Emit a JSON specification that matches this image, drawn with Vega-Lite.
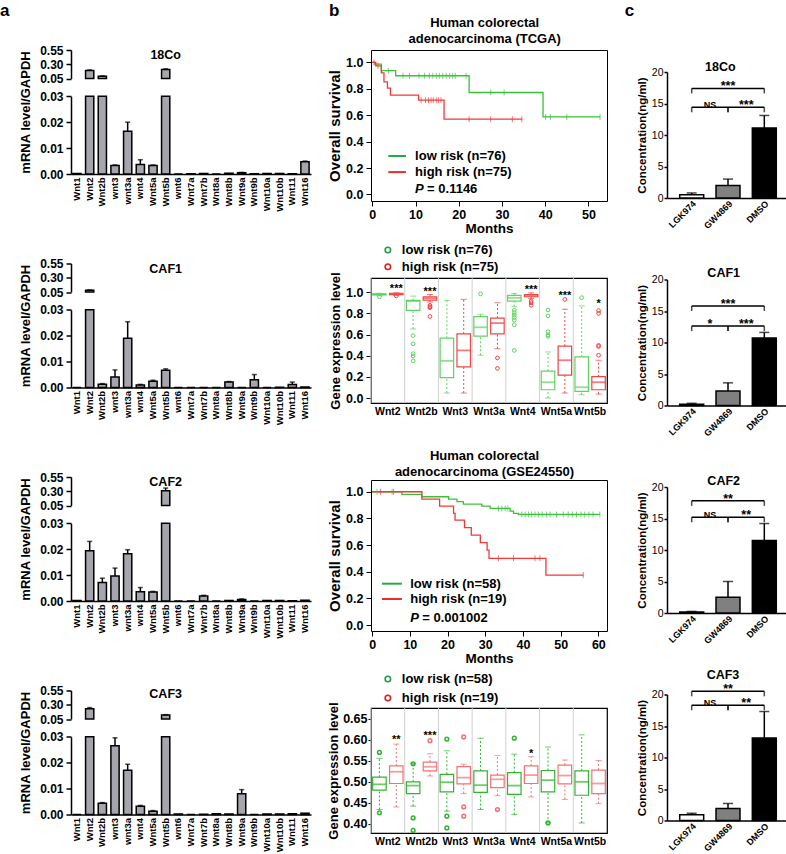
{
"$schema": "https://vega.github.io/schema/vega-lite/v6.json",
"background": "white",
"padding": {"left": 0, "top": 1, "right": 0, "bottom": 0},
"spacing": 16,
"resolve": {"scale": {"color": "independent"}},
"config": {
  "font": "Liberation Sans",
  "view": {"stroke": null},
  "axis": {"domainColor": "black", "tickColor": "black", "labelColor": "black", "titleColor": "black", "labelFontWeight": "bold", "titleFontWeight": "bold", "grid": false},
  "text": {"color": "black"}
},
"datasets": {
  "a1": [
    {"g":"Wnt1","v":0.0002,"hi":0.0002},{"g":"Wnt2","v":0.19,"hi":0.2},{"g":"Wnt2b","v":0.09,"hi":0.095},{"g":"wnt3","v":0.0033,"hi":0.0035},{"g":"wnt3a","v":0.0165,"hi":0.02},{"g":"wnt4","v":0.0037,"hi":0.0055},{"g":"Wnt5a","v":0.0033,"hi":0.0035},{"g":"Wnt5b","v":0.21,"hi":0.22},{"g":"wnt6","v":0,"hi":0},{"g":"Wnt7a","v":0.0001,"hi":0.0001},{"g":"Wnt7b","v":0.0002,"hi":0.0002},{"g":"Wnt8a","v":0,"hi":0},{"g":"Wnt8b","v":0.0003,"hi":0.0003},{"g":"Wnt9a","v":0.0005,"hi":0.0006},{"g":"Wnt9b","v":0.0001,"hi":0.0001},{"g":"Wnt10a","v":0.0002,"hi":0.0002},{"g":"Wnt10b","v":0.0002,"hi":0.0002},{"g":"Wnt11","v":0.0001,"hi":0.0001},{"g":"Wnt16","v":0.0047,"hi":0.005}
  ],
  "a2": [
    {"g":"Wnt1","v":0,"hi":0},{"g":"Wnt2","v":0.08,"hi":0.085},{"g":"Wnt2b","v":0.0013,"hi":0.0015},{"g":"wnt3","v":0.0041,"hi":0.0068},{"g":"wnt3a","v":0.019,"hi":0.0254},{"g":"wnt4","v":0.001,"hi":0.0012},{"g":"Wnt5a","v":0.0024,"hi":0.0028},{"g":"Wnt5b","v":0.0067,"hi":0.0072},{"g":"wnt6","v":0,"hi":0},{"g":"Wnt7a","v":0,"hi":0},{"g":"Wnt7b","v":0,"hi":0},{"g":"Wnt8a","v":0,"hi":0},{"g":"Wnt8b","v":0.0021,"hi":0.0023},{"g":"Wnt9a","v":0,"hi":0},{"g":"Wnt9b","v":0.003,"hi":0.005},{"g":"Wnt10a","v":0,"hi":0},{"g":"Wnt10b","v":0.0001,"hi":0.0001},{"g":"Wnt11","v":0.0012,"hi":0.0021},{"g":"Wnt16","v":0.0002,"hi":0.0002}
  ],
  "a3": [
    {"g":"Wnt1","v":0.0002,"hi":0.0002},{"g":"Wnt2","v":0.0194,"hi":0.023},{"g":"Wnt2b","v":0.0071,"hi":0.0088},{"g":"wnt3","v":0.0097,"hi":0.0127},{"g":"wnt3a","v":0.0182,"hi":0.0198},{"g":"wnt4","v":0.0036,"hi":0.0052},{"g":"Wnt5a","v":0.0035,"hi":0.0037},{"g":"Wnt5b","v":0.31,"hi":0.356},{"g":"wnt6","v":0,"hi":0},{"g":"Wnt7a","v":0,"hi":0},{"g":"Wnt7b","v":0.0019,"hi":0.0022},{"g":"Wnt8a","v":0,"hi":0},{"g":"Wnt8b","v":0.0002,"hi":0.0002},{"g":"Wnt9a","v":0.0006,"hi":0.0008},{"g":"Wnt9b","v":0,"hi":0},{"g":"Wnt10a","v":0.0002,"hi":0.0002},{"g":"Wnt10b","v":0.0002,"hi":0.0002},{"g":"Wnt11","v":0.0001,"hi":0.0001},{"g":"Wnt16","v":0.0003,"hi":0.0003}
  ],
  "a4": [
    {"g":"Wnt1","v":0,"hi":0},{"g":"Wnt2","v":0.23,"hi":0.25},{"g":"Wnt2b","v":0.0043,"hi":0.0046},{"g":"wnt3","v":0.0265,"hi":0.0296},{"g":"wnt3a","v":0.0171,"hi":0.0194},{"g":"wnt4","v":0.0032,"hi":0.0035},{"g":"Wnt5a","v":0.0013,"hi":0.0015},{"g":"Wnt5b","v":0.12,"hi":0.126},{"g":"wnt6","v":0.0002,"hi":0.0002},{"g":"Wnt7a","v":0,"hi":0},{"g":"Wnt7b","v":0.0001,"hi":0.0001},{"g":"Wnt8a","v":0.0003,"hi":0.0003},{"g":"Wnt8b","v":0.0002,"hi":0.0002},{"g":"Wnt9a","v":0.008,"hi":0.0096},{"g":"Wnt9b","v":0,"hi":0},{"g":"Wnt10a","v":0.0002,"hi":0.0002},{"g":"Wnt10b","v":0.0002,"hi":0.0002},{"g":"Wnt11","v":0.0003,"hi":0.0003},{"g":"Wnt16","v":0.0005,"hi":0.0005}
  ],
  "km1": [
    {"t":0,"s":1,"grp":"low"},{"t":0.6,"s":0.987,"grp":"low"},{"t":2.1,"s":0.937,"grp":"low"},{"t":5.4,"s":0.899,"grp":"low"},{"t":22.4,"s":0.772,"grp":"low"},{"t":39.5,"s":0.587,"grp":"low"},{"t":52.7,"s":0.587,"grp":"low"},
    {"t":0,"s":1,"grp":"high"},{"t":0.8,"s":0.974,"grp":"high"},{"t":2.1,"s":0.92,"grp":"high"},{"t":2.7,"s":0.853,"grp":"high"},{"t":3.5,"s":0.805,"grp":"high"},{"t":4.2,"s":0.752,"grp":"high"},{"t":10.7,"s":0.714,"grp":"high"},{"t":16.6,"s":0.57,"grp":"high"},{"t":34.7,"s":0.57,"grp":"high"}
  ],
  "cens1": [
    {"t":3.7,"s":0.937,"grp":"low"},{"t":7.1,"s":0.899,"grp":"low"},{"t":8.6,"s":0.899,"grp":"low"},{"t":10.8,"s":0.899,"grp":"low"},{"t":12.1,"s":0.899,"grp":"low"},{"t":13.2,"s":0.899,"grp":"low"},{"t":14.0,"s":0.899,"grp":"low"},{"t":14.8,"s":0.899,"grp":"low"},{"t":15.5,"s":0.899,"grp":"low"},{"t":16.3,"s":0.899,"grp":"low"},{"t":17.1,"s":0.899,"grp":"low"},{"t":17.9,"s":0.899,"grp":"low"},{"t":18.6,"s":0.899,"grp":"low"},{"t":19.2,"s":0.899,"grp":"low"},{"t":21.7,"s":0.899,"grp":"low"},{"t":27.4,"s":0.772,"grp":"low"},{"t":30.5,"s":0.772,"grp":"low"},{"t":40.1,"s":0.587,"grp":"low"},{"t":41.2,"s":0.587,"grp":"low"},{"t":45.0,"s":0.587,"grp":"low"},{"t":52.7,"s":0.587,"grp":"low"},
    {"t":0.4,"s":1,"grp":"high"},{"t":1.3,"s":0.974,"grp":"high"},{"t":11.3,"s":0.714,"grp":"high"},{"t":12.3,"s":0.714,"grp":"high"},{"t":13.0,"s":0.714,"grp":"high"},{"t":13.6,"s":0.714,"grp":"high"},{"t":14.1,"s":0.714,"grp":"high"},{"t":14.8,"s":0.714,"grp":"high"},{"t":15.3,"s":0.714,"grp":"high"},{"t":15.9,"s":0.714,"grp":"high"},{"t":22.4,"s":0.57,"grp":"high"},{"t":27.4,"s":0.57,"grp":"high"},{"t":32.4,"s":0.57,"grp":"high"},{"t":34.6,"s":0.57,"grp":"high"}
  ],
  "km2": [
    {"t":0,"s":1,"grp":"low"},{"t":7.9,"s":0.98,"grp":"low"},{"t":13.2,"s":0.9625,"grp":"low"},{"t":20.3,"s":0.945,"grp":"low"},{"t":22.5,"s":0.925,"grp":"low"},{"t":24.2,"s":0.9075,"grp":"low"},{"t":29.1,"s":0.8925,"grp":"low"},{"t":31.3,"s":0.875,"grp":"low"},{"t":36.6,"s":0.855,"grp":"low"},{"t":37.5,"s":0.8375,"grp":"low"},{"t":38.8,"s":0.83,"grp":"low"},{"t":60.4,"s":0.83,"grp":"low"},
    {"t":0,"s":1,"grp":"high"},{"t":13.2,"s":0.945,"grp":"high"},{"t":17.9,"s":0.8925,"grp":"high"},{"t":21.6,"s":0.8375,"grp":"high"},{"t":22.0,"s":0.7875,"grp":"high"},{"t":24.5,"s":0.73,"grp":"high"},{"t":26.3,"s":0.675,"grp":"high"},{"t":28.7,"s":0.6175,"grp":"high"},{"t":30.5,"s":0.5625,"grp":"high"},{"t":31.0,"s":0.5,"grp":"high"},{"t":46.1,"s":0.375,"grp":"high"},{"t":56.0,"s":0.375,"grp":"high"}
  ],
  "cens2": [
    {"t":1.3,"s":1,"grp":"low"},{"t":5.3,"s":1,"grp":"low"},{"t":33.5,"s":0.875,"grp":"low"},{"t":34.4,"s":0.875,"grp":"low"},{"t":35.3,"s":0.875,"grp":"low"},{"t":36.0,"s":0.875,"grp":"low"},{"t":39.7,"s":0.83,"grp":"low"},{"t":40.6,"s":0.83,"grp":"low"},{"t":41.5,"s":0.83,"grp":"low"},{"t":42.3,"s":0.83,"grp":"low"},{"t":43.2,"s":0.83,"grp":"low"},{"t":44.1,"s":0.83,"grp":"low"},{"t":45.1,"s":0.83,"grp":"low"},{"t":46.3,"s":0.83,"grp":"low"},{"t":47.2,"s":0.83,"grp":"low"},{"t":48.9,"s":0.83,"grp":"low"},{"t":50.7,"s":0.83,"grp":"low"},{"t":52.0,"s":0.83,"grp":"low"},{"t":53.1,"s":0.83,"grp":"low"},{"t":54.2,"s":0.83,"grp":"low"},{"t":55.4,"s":0.83,"grp":"low"},{"t":56.4,"s":0.83,"grp":"low"},{"t":57.5,"s":0.83,"grp":"low"},{"t":58.6,"s":0.83,"grp":"low"},{"t":60.4,"s":0.83,"grp":"low"},
    {"t":2.2,"s":1,"grp":"high"},{"t":5.7,"s":1,"grp":"high"},{"t":33.5,"s":0.5,"grp":"high"},{"t":37.5,"s":0.5,"grp":"high"},{"t":43.2,"s":0.5,"grp":"high"},{"t":44.5,"s":0.5,"grp":"high"},{"t":56.0,"s":0.375,"grp":"high"}
  ],
  "box1": [
    {"gene":"Wnt2","grp":"low","lo":0.965,"q1":0.975,"med":0.98,"q3":0.985,"hi":0.99},
    {"gene":"Wnt2","grp":"high","lo":0.97,"q1":0.977,"med":0.982,"q3":0.99,"hi":0.995},
    {"gene":"Wnt2b","grp":"low","lo":0.652,"q1":0.829,"med":0.916,"q3":0.922,"hi":0.963},
    {"gene":"Wnt2b","grp":"high","lo":0.907,"q1":0.925,"med":0.944,"q3":0.957,"hi":0.978},
    {"gene":"Wnt3","grp":"low","lo":0.047,"q1":0.193,"med":0.351,"q3":0.565,"hi":0.922},
    {"gene":"Wnt3","grp":"high","lo":0.047,"q1":0.295,"med":0.45,"q3":0.606,"hi":0.932},
    {"gene":"Wnt3a","grp":"low","lo":0.404,"q1":0.584,"med":0.668,"q3":0.77,"hi":0.792},
    {"gene":"Wnt3a","grp":"high","lo":0.466,"q1":0.606,"med":0.708,"q3":0.755,"hi":0.9},
    {"gene":"Wnt4","grp":"low","lo":0.863,"q1":0.916,"med":0.947,"q3":0.969,"hi":0.988},
    {"gene":"Wnt4","grp":"high","lo":0.941,"q1":0.957,"med":0.969,"q3":0.978,"hi":0.994},
    {"gene":"Wnt5a","grp":"low","lo":0.0,"q1":0.078,"med":0.149,"q3":0.255,"hi":0.435},
    {"gene":"Wnt5a","grp":"high","lo":0.047,"q1":0.217,"med":0.357,"q3":0.491,"hi":0.839},
    {"gene":"Wnt5b","grp":"low","lo":0.031,"q1":0.062,"med":0.102,"q3":0.388,"hi":0.87},
    {"gene":"Wnt5b","grp":"high","lo":0.037,"q1":0.078,"med":0.149,"q3":0.202,"hi":0.357}
  ],
  "out1": [
    {"gene":"Wnt2","grp":"low","v":0.957},{"gene":"Wnt2","grp":"high","v":0.965},
    {"gene":"Wnt2b","grp":"low","v":0.59},{"gene":"Wnt2b","grp":"low","v":0.512},{"gene":"Wnt2b","grp":"low","v":0.419},{"gene":"Wnt2b","grp":"low","v":0.398},{"gene":"Wnt2b","grp":"low","v":0.351},
    {"gene":"Wnt2b","grp":"high","v":0.876},{"gene":"Wnt2b","grp":"high","v":0.863},{"gene":"Wnt2b","grp":"high","v":0.854},{"gene":"Wnt2b","grp":"high","v":0.77},
    {"gene":"Wnt3a","grp":"low","v":0.984},{"gene":"Wnt3a","grp":"high","v":0.379},{"gene":"Wnt3a","grp":"high","v":0.28},
    {"gene":"Wnt4","grp":"low","v":0.829},{"gene":"Wnt4","grp":"low","v":0.807},{"gene":"Wnt4","grp":"low","v":0.783},{"gene":"Wnt4","grp":"low","v":0.761},{"gene":"Wnt4","grp":"low","v":0.736},{"gene":"Wnt4","grp":"low","v":0.692},{"gene":"Wnt4","grp":"low","v":0.45},
    {"gene":"Wnt4","grp":"high","v":0.916},{"gene":"Wnt4","grp":"high","v":0.9},{"gene":"Wnt4","grp":"high","v":0.876},
    {"gene":"Wnt5a","grp":"low","v":0.832},{"gene":"Wnt5a","grp":"low","v":0.776},{"gene":"Wnt5a","grp":"low","v":0.627},{"gene":"Wnt5a","grp":"low","v":0.596},{"gene":"Wnt5a","grp":"low","v":0.584},
    {"gene":"Wnt5a","grp":"high","v":0.932},{"gene":"Wnt5b","grp":"low","v":0.948},
    {"gene":"Wnt5b","grp":"high","v":0.826},{"gene":"Wnt5b","grp":"high","v":0.8},{"gene":"Wnt5b","grp":"high","v":0.497},{"gene":"Wnt5b","grp":"high","v":0.487},{"gene":"Wnt5b","grp":"high","v":0.404}
  ],
  "star1": [
    {"gene":"Wnt2","grp":"high","y":1.05,"lab":"***"},{"gene":"Wnt2b","grp":"high","y":1.025,"lab":"***"},{"gene":"Wnt4","grp":"high","y":1.04,"lab":"***"},{"gene":"Wnt5a","grp":"high","y":0.979,"lab":"***"},{"gene":"Wnt5b","grp":"high","y":0.907,"lab":"*"}
  ],
  "box2": [
    {"gene":"Wnt2","grp":"low","lo":0.434,"q1":0.48,"med":0.494,"q3":0.511,"hi":0.556},
    {"gene":"Wnt2","grp":"high","lo":0.44,"q1":0.496,"med":0.524,"q3":0.538,"hi":0.59},
    {"gene":"Wnt2b","grp":"low","lo":0.442,"q1":0.472,"med":0.491,"q3":0.5,"hi":0.544},
    {"gene":"Wnt2b","grp":"high","lo":0.514,"q1":0.526,"med":0.536,"q3":0.547,"hi":0.567},
    {"gene":"Wnt3","grp":"low","lo":0.43,"q1":0.476,"med":0.499,"q3":0.518,"hi":0.574},
    {"gene":"Wnt3","grp":"high","lo":0.472,"q1":0.495,"med":0.51,"q3":0.536,"hi":0.542},
    {"gene":"Wnt3a","grp":"low","lo":0.434,"q1":0.475,"med":0.492,"q3":0.526,"hi":0.604},
    {"gene":"Wnt3a","grp":"high","lo":0.467,"q1":0.486,"med":0.506,"q3":0.516,"hi":0.563},
    {"gene":"Wnt4","grp":"low","lo":0.422,"q1":0.47,"med":0.491,"q3":0.522,"hi":0.566},
    {"gene":"Wnt4","grp":"high","lo":0.464,"q1":0.496,"med":0.516,"q3":0.538,"hi":0.56},
    {"gene":"Wnt5a","grp":"low","lo":0.402,"q1":0.476,"med":0.504,"q3":0.527,"hi":0.583},
    {"gene":"Wnt5a","grp":"high","lo":0.458,"q1":0.495,"med":0.515,"q3":0.54,"hi":0.552},
    {"gene":"Wnt5b","grp":"low","lo":0.402,"q1":0.468,"med":0.5,"q3":0.526,"hi":0.612},
    {"gene":"Wnt5b","grp":"high","lo":0.448,"q1":0.472,"med":0.496,"q3":0.528,"hi":0.551}
  ],
  "out2": [
    {"gene":"Wnt2","grp":"low","v":0.57},{"gene":"Wnt2","grp":"low","v":0.426},
    {"gene":"Wnt2b","grp":"low","v":0.543},{"gene":"Wnt2b","grp":"low","v":0.414},{"gene":"Wnt2b","grp":"low","v":0.384},
    {"gene":"Wnt2b","grp":"high","v":0.598},
    {"gene":"Wnt3","grp":"low","v":0.602},{"gene":"Wnt3","grp":"low","v":0.418},{"gene":"Wnt3","grp":"low","v":0.39},
    {"gene":"Wnt3","grp":"high","v":0.607},{"gene":"Wnt3","grp":"high","v":0.44},{"gene":"Wnt3","grp":"high","v":0.418},
    {"gene":"Wnt3a","grp":"high","v":0.434},{"gene":"Wnt4","grp":"low","v":0.604},{"gene":"Wnt5a","grp":"low","v":0.402}
  ],
  "star2": [
    {"gene":"Wnt2","grp":"high","y":0.604,"lab":"**"},{"gene":"Wnt2b","grp":"high","y":0.614,"lab":"***"},{"gene":"Wnt4","grp":"high","y":0.57,"lab":"*"}
  ],
  "c1": [{"x":"LGK974","v":0.5,"hi":0.8},{"x":"GW4869","v":2.0,"hi":3.0},{"x":"DMSO","v":11.1,"hi":13.1}],
  "c2": [{"x":"LGK974","v":0.2,"hi":0.35},{"x":"GW4869","v":2.3,"hi":3.6},{"x":"DMSO","v":10.7,"hi":11.6}],
  "c3": [{"x":"LGK974","v":0.15,"hi":0.25},{"x":"GW4869","v":2.5,"hi":5.0},{"x":"DMSO","v":11.5,"hi":14.2}],
  "c4": [{"x":"LGK974","v":0.9,"hi":1.15},{"x":"GW4869","v":1.9,"hi":2.7},{"x":"DMSO","v":13.1,"hi":17.3}],
  "k1": [{"x1":"LGK974","x2":"DMSO","y":17.4,"lab":"***","lvl":"top"},{"x1":"LGK974","x2":"GW4869","y":14.4,"lab":"NS","lvl":"low"},{"x1":"GW4869","x2":"DMSO","y":14.4,"lab":"***","lvl":"low"}],
  "k2": [{"x1":"LGK974","x2":"DMSO","y":15.8,"lab":"***","lvl":"top"},{"x1":"LGK974","x2":"GW4869","y":12.6,"lab":"*","lvl":"low"},{"x1":"GW4869","x2":"DMSO","y":12.6,"lab":"***","lvl":"low"}],
  "k3": [{"x1":"LGK974","x2":"DMSO","y":17.8,"lab":"**","lvl":"top"},{"x1":"LGK974","x2":"GW4869","y":15.2,"lab":"NS","lvl":"low"},{"x1":"GW4869","x2":"DMSO","y":15.2,"lab":"**","lvl":"low"}],
  "k4": [{"x1":"LGK974","x2":"DMSO","y":20.5,"lab":"**","lvl":"top"},{"x1":"LGK974","x2":"GW4869","y":18.3,"lab":"NS","lvl":"low"},{"x1":"GW4869","x2":"DMSO","y":18.3,"lab":"**","lvl":"low"}]
},
"hconcat": [
{
  "bounds": "flush",
  "spacing": 89.5,
  "vconcat": [
  {
    "width": 240, "height": 124,
    "layer": [
      {"layer": [
        {"data": {"name": "a1"}, "transform": [{"filter": "datum.v > 0.05"}], "mark": {"type": "bar", "fill": "#a5a5ad", "stroke": "black", "strokeWidth": 1.5},
         "encoding": {"x": {"field": "g", "type": "nominal", "scale": {"domain": ["Wnt1","Wnt2","Wnt2b","wnt3","wnt3a","wnt4","Wnt5a","Wnt5b","wnt6","Wnt7a","Wnt7b","Wnt8a","Wnt8b","Wnt9a","Wnt9b","Wnt10a","Wnt10b","Wnt11","Wnt16"], "paddingInner": 0.35, "paddingOuter": 0.15}, "axis": {"title": null, "labelAngle": -90, "labelFontSize": 9.5, "labelPadding": 3, "ticks": false, "domainWidth": 1.5, "labelOverlap": false}},
                      "y": {"field": "v", "type": "quantitative", "scale": {"domain": [0.05, 0.55], "range": [28.5, 0], "clamp": true, "nice": false, "zero": false}, "axis": {"orient": "left", "values": [0.05, 0.3, 0.55], "format": ".2f", "title": null, "labelFontSize": 12, "tickSize": 5, "tickWidth": 1.5, "domainWidth": 1.5, "labelPadding": 3}},
                      "y2": {"datum": 0.05}}},
        {"data": {"name": "a1"}, "transform": [{"filter": "datum.v > 0.05"}], "mark": {"type": "rule", "color": "black", "strokeWidth": 1.5}, "encoding": {"x": {"field": "g", "type": "nominal", "axis": {"title": null, "labelAngle": -90, "labelFontSize": 9.5, "labelPadding": 3, "ticks": false, "domainWidth": 1.5, "labelOverlap": false}}, "y": {"field": "v", "type": "quantitative", "axis": {"orient": "left", "values": [0.05, 0.3, 0.55], "format": ".2f", "title": null, "labelFontSize": 12, "tickSize": 5, "tickWidth": 1.5, "domainWidth": 1.5, "labelPadding": 3}}, "y2": {"field": "hi"}}},
        {"data": {"name": "a1"}, "transform": [{"filter": "datum.v > 0.05"}], "mark": {"type": "tick", "orient": "horizontal", "size": 5, "thickness": 1.5, "color": "black"}, "encoding": {"x": {"field": "g", "type": "nominal", "axis": {"title": null, "labelAngle": -90, "labelFontSize": 9.5, "labelPadding": 3, "ticks": false, "domainWidth": 1.5, "labelOverlap": false}}, "y": {"field": "hi", "type": "quantitative", "axis": {"orient": "left", "values": [0.05, 0.3, 0.55], "format": ".2f", "title": null, "labelFontSize": 12, "tickSize": 5, "tickWidth": 1.5, "domainWidth": 1.5, "labelPadding": 3}}}},
        {"data": {"values": [{"t": "18Co"}]}, "mark": {"type": "text", "fontSize": 12.5, "fontWeight": "bold", "baseline": "middle", "color": "black"}, "encoding": {"x": {"datum": "Wnt5b", "axis": {"title": null, "labelAngle": -90, "labelFontSize": 9.5, "labelPadding": 3, "ticks": false, "domainWidth": 1.5, "labelOverlap": false}}, "y": {"datum": 0.46, "axis": {"orient": "left", "values": [0.05, 0.3, 0.55], "format": ".2f", "title": null, "labelFontSize": 12, "tickSize": 5, "tickWidth": 1.5, "domainWidth": 1.5, "labelPadding": 3}}, "text": {"field": "t"}}},
        {"data": {"values": [{"t": "a"}]}, "mark": {"type": "text", "fontSize": 17, "fontWeight": "bold", "align": "left", "baseline": "alphabetic", "dx": -77, "dy": -33.7, "color": "black"}, "encoding": {"x": {"datum": "Wnt1", "axis": {"title": null, "labelAngle": -90, "labelFontSize": 9.5, "labelPadding": 3, "ticks": false, "domainWidth": 1.5, "labelOverlap": false}}, "y": {"datum": 0.55, "axis": {"orient": "left", "values": [0.05, 0.3, 0.55], "format": ".2f", "title": null, "labelFontSize": 12, "tickSize": 5, "tickWidth": 1.5, "domainWidth": 1.5, "labelPadding": 3}}, "text": {"field": "t"}}}
      ]},
      {"layer": [
        {"data": {"name": "a1"}, "mark": {"type": "bar", "fill": "#a5a5ad", "stroke": "black", "strokeWidth": 1.5}, "encoding": {"x": {"field": "g", "type": "nominal", "axis": {"title": null, "labelAngle": -90, "labelFontSize": 9.5, "labelPadding": 3, "ticks": false, "domainWidth": 1.5, "labelOverlap": false}}, "y": {"field": "v", "type": "quantitative", "scale": {"domain": [0, 0.03], "range": [124, 46.3], "clamp": true, "nice": false}, "axis": {"orient": "left", "values": [0, 0.01, 0.02, 0.03], "format": ".2f", "title": "mRNA level/GAPDH", "titleFontSize": 13, "titlePadding": 7, "titleY": 62, "labelFontSize": 12, "tickSize": 5, "tickWidth": 1.5, "domainWidth": 1.5, "labelPadding": 3}}}},
        {"data": {"name": "a1"}, "transform": [{"filter": "datum.v < 0.03 && datum.hi > datum.v"}], "mark": {"type": "rule", "color": "black", "strokeWidth": 1.5}, "encoding": {"x": {"field": "g", "type": "nominal", "axis": {"title": null, "labelAngle": -90, "labelFontSize": 9.5, "labelPadding": 3, "ticks": false, "domainWidth": 1.5, "labelOverlap": false}}, "y": {"field": "v", "type": "quantitative", "axis": {"orient": "left", "values": [0, 0.01, 0.02, 0.03], "format": ".2f", "title": "mRNA level/GAPDH", "titleFontSize": 13, "titlePadding": 7, "titleY": 62, "labelFontSize": 12, "tickSize": 5, "tickWidth": 1.5, "domainWidth": 1.5, "labelPadding": 3}}, "y2": {"field": "hi"}}},
        {"data": {"name": "a1"}, "transform": [{"filter": "datum.v < 0.03 && datum.hi > datum.v"}], "mark": {"type": "tick", "orient": "horizontal", "size": 5, "thickness": 1.5, "color": "black"}, "encoding": {"x": {"field": "g", "type": "nominal", "axis": {"title": null, "labelAngle": -90, "labelFontSize": 9.5, "labelPadding": 3, "ticks": false, "domainWidth": 1.5, "labelOverlap": false}}, "y": {"field": "hi", "type": "quantitative", "axis": {"orient": "left", "values": [0, 0.01, 0.02, 0.03], "format": ".2f", "title": "mRNA level/GAPDH", "titleFontSize": 13, "titlePadding": 7, "titleY": 62, "labelFontSize": 12, "tickSize": 5, "tickWidth": 1.5, "domainWidth": 1.5, "labelPadding": 3}}}}
      ]}
    ],
    "resolve": {"scale": {"y": "independent"}, "axis": {"y": "independent"}}
  },
  {
    "width": 240, "height": 124,
    "layer": [
      {"layer": [
        {"data": {"name": "a2"}, "transform": [{"filter": "datum.v > 0.05"}], "mark": {"type": "bar", "fill": "#a5a5ad", "stroke": "black", "strokeWidth": 1.5},
         "encoding": {"x": {"field": "g", "type": "nominal", "scale": {"domain": ["Wnt1","Wnt2","Wnt2b","wnt3","wnt3a","wnt4","Wnt5a","Wnt5b","wnt6","Wnt7a","Wnt7b","Wnt8a","Wnt8b","Wnt9a","Wnt9b","Wnt10a","Wnt10b","Wnt11","Wnt16"], "paddingInner": 0.35, "paddingOuter": 0.15}, "axis": {"title": null, "labelAngle": -90, "labelFontSize": 9.5, "labelPadding": 3, "ticks": false, "domainWidth": 1.5, "labelOverlap": false}},
                      "y": {"field": "v", "type": "quantitative", "scale": {"domain": [0.05, 0.55], "range": [28.5, 0], "clamp": true, "nice": false, "zero": false}, "axis": {"orient": "left", "values": [0.05, 0.3, 0.55], "format": ".2f", "title": null, "labelFontSize": 12, "tickSize": 5, "tickWidth": 1.5, "domainWidth": 1.5, "labelPadding": 3}},
                      "y2": {"datum": 0.05}}},
        {"data": {"name": "a2"}, "transform": [{"filter": "datum.v > 0.05"}], "mark": {"type": "rule", "color": "black", "strokeWidth": 1.5}, "encoding": {"x": {"field": "g", "type": "nominal", "axis": {"title": null, "labelAngle": -90, "labelFontSize": 9.5, "labelPadding": 3, "ticks": false, "domainWidth": 1.5, "labelOverlap": false}}, "y": {"field": "v", "type": "quantitative", "axis": {"orient": "left", "values": [0.05, 0.3, 0.55], "format": ".2f", "title": null, "labelFontSize": 12, "tickSize": 5, "tickWidth": 1.5, "domainWidth": 1.5, "labelPadding": 3}}, "y2": {"field": "hi"}}},
        {"data": {"name": "a2"}, "transform": [{"filter": "datum.v > 0.05"}], "mark": {"type": "tick", "orient": "horizontal", "size": 5, "thickness": 1.5, "color": "black"}, "encoding": {"x": {"field": "g", "type": "nominal", "axis": {"title": null, "labelAngle": -90, "labelFontSize": 9.5, "labelPadding": 3, "ticks": false, "domainWidth": 1.5, "labelOverlap": false}}, "y": {"field": "hi", "type": "quantitative", "axis": {"orient": "left", "values": [0.05, 0.3, 0.55], "format": ".2f", "title": null, "labelFontSize": 12, "tickSize": 5, "tickWidth": 1.5, "domainWidth": 1.5, "labelPadding": 3}}}},
        {"data": {"values": [{"t": "CAF1"}]}, "mark": {"type": "text", "fontSize": 12.5, "fontWeight": "bold", "baseline": "middle", "color": "black"}, "encoding": {"x": {"datum": "Wnt5b", "axis": {"title": null, "labelAngle": -90, "labelFontSize": 9.5, "labelPadding": 3, "ticks": false, "domainWidth": 1.5, "labelOverlap": false}}, "y": {"datum": 0.46, "axis": {"orient": "left", "values": [0.05, 0.3, 0.55], "format": ".2f", "title": null, "labelFontSize": 12, "tickSize": 5, "tickWidth": 1.5, "domainWidth": 1.5, "labelPadding": 3}}, "text": {"field": "t"}}}
      ]},
      {"layer": [
        {"data": {"name": "a2"}, "mark": {"type": "bar", "fill": "#a5a5ad", "stroke": "black", "strokeWidth": 1.5}, "encoding": {"x": {"field": "g", "type": "nominal", "axis": {"title": null, "labelAngle": -90, "labelFontSize": 9.5, "labelPadding": 3, "ticks": false, "domainWidth": 1.5, "labelOverlap": false}}, "y": {"field": "v", "type": "quantitative", "scale": {"domain": [0, 0.03], "range": [124, 46.3], "clamp": true, "nice": false}, "axis": {"orient": "left", "values": [0, 0.01, 0.02, 0.03], "format": ".2f", "title": "mRNA level/GAPDH", "titleFontSize": 13, "titlePadding": 7, "titleY": 62, "labelFontSize": 12, "tickSize": 5, "tickWidth": 1.5, "domainWidth": 1.5, "labelPadding": 3}}}},
        {"data": {"name": "a2"}, "transform": [{"filter": "datum.v < 0.03 && datum.hi > datum.v"}], "mark": {"type": "rule", "color": "black", "strokeWidth": 1.5}, "encoding": {"x": {"field": "g", "type": "nominal", "axis": {"title": null, "labelAngle": -90, "labelFontSize": 9.5, "labelPadding": 3, "ticks": false, "domainWidth": 1.5, "labelOverlap": false}}, "y": {"field": "v", "type": "quantitative", "axis": {"orient": "left", "values": [0, 0.01, 0.02, 0.03], "format": ".2f", "title": "mRNA level/GAPDH", "titleFontSize": 13, "titlePadding": 7, "titleY": 62, "labelFontSize": 12, "tickSize": 5, "tickWidth": 1.5, "domainWidth": 1.5, "labelPadding": 3}}, "y2": {"field": "hi"}}},
        {"data": {"name": "a2"}, "transform": [{"filter": "datum.v < 0.03 && datum.hi > datum.v"}], "mark": {"type": "tick", "orient": "horizontal", "size": 5, "thickness": 1.5, "color": "black"}, "encoding": {"x": {"field": "g", "type": "nominal", "axis": {"title": null, "labelAngle": -90, "labelFontSize": 9.5, "labelPadding": 3, "ticks": false, "domainWidth": 1.5, "labelOverlap": false}}, "y": {"field": "hi", "type": "quantitative", "axis": {"orient": "left", "values": [0, 0.01, 0.02, 0.03], "format": ".2f", "title": "mRNA level/GAPDH", "titleFontSize": 13, "titlePadding": 7, "titleY": 62, "labelFontSize": 12, "tickSize": 5, "tickWidth": 1.5, "domainWidth": 1.5, "labelPadding": 3}}}}
      ]}
    ],
    "resolve": {"scale": {"y": "independent"}, "axis": {"y": "independent"}}
  },
  {
    "width": 240, "height": 124,
    "layer": [
      {"layer": [
        {"data": {"name": "a3"}, "transform": [{"filter": "datum.v > 0.05"}], "mark": {"type": "bar", "fill": "#a5a5ad", "stroke": "black", "strokeWidth": 1.5},
         "encoding": {"x": {"field": "g", "type": "nominal", "scale": {"domain": ["Wnt1","Wnt2","Wnt2b","wnt3","wnt3a","wnt4","Wnt5a","Wnt5b","wnt6","Wnt7a","Wnt7b","Wnt8a","Wnt8b","Wnt9a","Wnt9b","Wnt10a","Wnt10b","Wnt11","Wnt16"], "paddingInner": 0.35, "paddingOuter": 0.15}, "axis": {"title": null, "labelAngle": -90, "labelFontSize": 9.5, "labelPadding": 3, "ticks": false, "domainWidth": 1.5, "labelOverlap": false}},
                      "y": {"field": "v", "type": "quantitative", "scale": {"domain": [0.05, 0.55], "range": [28.5, 0], "clamp": true, "nice": false, "zero": false}, "axis": {"orient": "left", "values": [0.05, 0.3, 0.55], "format": ".2f", "title": null, "labelFontSize": 12, "tickSize": 5, "tickWidth": 1.5, "domainWidth": 1.5, "labelPadding": 3}},
                      "y2": {"datum": 0.05}}},
        {"data": {"name": "a3"}, "transform": [{"filter": "datum.v > 0.05"}], "mark": {"type": "rule", "color": "black", "strokeWidth": 1.5}, "encoding": {"x": {"field": "g", "type": "nominal", "axis": {"title": null, "labelAngle": -90, "labelFontSize": 9.5, "labelPadding": 3, "ticks": false, "domainWidth": 1.5, "labelOverlap": false}}, "y": {"field": "v", "type": "quantitative", "axis": {"orient": "left", "values": [0.05, 0.3, 0.55], "format": ".2f", "title": null, "labelFontSize": 12, "tickSize": 5, "tickWidth": 1.5, "domainWidth": 1.5, "labelPadding": 3}}, "y2": {"field": "hi"}}},
        {"data": {"name": "a3"}, "transform": [{"filter": "datum.v > 0.05"}], "mark": {"type": "tick", "orient": "horizontal", "size": 5, "thickness": 1.5, "color": "black"}, "encoding": {"x": {"field": "g", "type": "nominal", "axis": {"title": null, "labelAngle": -90, "labelFontSize": 9.5, "labelPadding": 3, "ticks": false, "domainWidth": 1.5, "labelOverlap": false}}, "y": {"field": "hi", "type": "quantitative", "axis": {"orient": "left", "values": [0.05, 0.3, 0.55], "format": ".2f", "title": null, "labelFontSize": 12, "tickSize": 5, "tickWidth": 1.5, "domainWidth": 1.5, "labelPadding": 3}}}},
        {"data": {"values": [{"t": "CAF2"}]}, "mark": {"type": "text", "fontSize": 12.5, "fontWeight": "bold", "baseline": "middle", "color": "black"}, "encoding": {"x": {"datum": "Wnt5b", "axis": {"title": null, "labelAngle": -90, "labelFontSize": 9.5, "labelPadding": 3, "ticks": false, "domainWidth": 1.5, "labelOverlap": false}}, "y": {"datum": 0.47, "axis": {"orient": "left", "values": [0.05, 0.3, 0.55], "format": ".2f", "title": null, "labelFontSize": 12, "tickSize": 5, "tickWidth": 1.5, "domainWidth": 1.5, "labelPadding": 3}}, "text": {"field": "t"}}}
      ]},
      {"layer": [
        {"data": {"name": "a3"}, "mark": {"type": "bar", "fill": "#a5a5ad", "stroke": "black", "strokeWidth": 1.5}, "encoding": {"x": {"field": "g", "type": "nominal", "axis": {"title": null, "labelAngle": -90, "labelFontSize": 9.5, "labelPadding": 3, "ticks": false, "domainWidth": 1.5, "labelOverlap": false}}, "y": {"field": "v", "type": "quantitative", "scale": {"domain": [0, 0.03], "range": [124, 46.3], "clamp": true, "nice": false}, "axis": {"orient": "left", "values": [0, 0.01, 0.02, 0.03], "format": ".2f", "title": "mRNA level/GAPDH", "titleFontSize": 13, "titlePadding": 7, "titleY": 62, "labelFontSize": 12, "tickSize": 5, "tickWidth": 1.5, "domainWidth": 1.5, "labelPadding": 3}}}},
        {"data": {"name": "a3"}, "transform": [{"filter": "datum.v < 0.03 && datum.hi > datum.v"}], "mark": {"type": "rule", "color": "black", "strokeWidth": 1.5}, "encoding": {"x": {"field": "g", "type": "nominal", "axis": {"title": null, "labelAngle": -90, "labelFontSize": 9.5, "labelPadding": 3, "ticks": false, "domainWidth": 1.5, "labelOverlap": false}}, "y": {"field": "v", "type": "quantitative", "axis": {"orient": "left", "values": [0, 0.01, 0.02, 0.03], "format": ".2f", "title": "mRNA level/GAPDH", "titleFontSize": 13, "titlePadding": 7, "titleY": 62, "labelFontSize": 12, "tickSize": 5, "tickWidth": 1.5, "domainWidth": 1.5, "labelPadding": 3}}, "y2": {"field": "hi"}}},
        {"data": {"name": "a3"}, "transform": [{"filter": "datum.v < 0.03 && datum.hi > datum.v"}], "mark": {"type": "tick", "orient": "horizontal", "size": 5, "thickness": 1.5, "color": "black"}, "encoding": {"x": {"field": "g", "type": "nominal", "axis": {"title": null, "labelAngle": -90, "labelFontSize": 9.5, "labelPadding": 3, "ticks": false, "domainWidth": 1.5, "labelOverlap": false}}, "y": {"field": "hi", "type": "quantitative", "axis": {"orient": "left", "values": [0, 0.01, 0.02, 0.03], "format": ".2f", "title": "mRNA level/GAPDH", "titleFontSize": 13, "titlePadding": 7, "titleY": 62, "labelFontSize": 12, "tickSize": 5, "tickWidth": 1.5, "domainWidth": 1.5, "labelPadding": 3}}}}
      ]}
    ],
    "resolve": {"scale": {"y": "independent"}, "axis": {"y": "independent"}}
  },
  {
    "width": 240, "height": 124,
    "layer": [
      {"layer": [
        {"data": {"name": "a4"}, "transform": [{"filter": "datum.v > 0.05"}], "mark": {"type": "bar", "fill": "#a5a5ad", "stroke": "black", "strokeWidth": 1.5},
         "encoding": {"x": {"field": "g", "type": "nominal", "scale": {"domain": ["Wnt1","Wnt2","Wnt2b","wnt3","wnt3a","wnt4","Wnt5a","Wnt5b","wnt6","Wnt7a","Wnt7b","Wnt8a","Wnt8b","Wnt9a","Wnt9b","Wnt10a","Wnt10b","Wnt11","Wnt16"], "paddingInner": 0.35, "paddingOuter": 0.15}, "axis": {"title": null, "labelAngle": -90, "labelFontSize": 9.5, "labelPadding": 3, "ticks": false, "domainWidth": 1.5, "labelOverlap": false}},
                      "y": {"field": "v", "type": "quantitative", "scale": {"domain": [0.05, 0.55], "range": [28.5, 0], "clamp": true, "nice": false, "zero": false}, "axis": {"orient": "left", "values": [0.05, 0.3, 0.55], "format": ".2f", "title": null, "labelFontSize": 12, "tickSize": 5, "tickWidth": 1.5, "domainWidth": 1.5, "labelPadding": 3}},
                      "y2": {"datum": 0.05}}},
        {"data": {"name": "a4"}, "transform": [{"filter": "datum.v > 0.05"}], "mark": {"type": "rule", "color": "black", "strokeWidth": 1.5}, "encoding": {"x": {"field": "g", "type": "nominal", "axis": {"title": null, "labelAngle": -90, "labelFontSize": 9.5, "labelPadding": 3, "ticks": false, "domainWidth": 1.5, "labelOverlap": false}}, "y": {"field": "v", "type": "quantitative", "axis": {"orient": "left", "values": [0.05, 0.3, 0.55], "format": ".2f", "title": null, "labelFontSize": 12, "tickSize": 5, "tickWidth": 1.5, "domainWidth": 1.5, "labelPadding": 3}}, "y2": {"field": "hi"}}},
        {"data": {"name": "a4"}, "transform": [{"filter": "datum.v > 0.05"}], "mark": {"type": "tick", "orient": "horizontal", "size": 5, "thickness": 1.5, "color": "black"}, "encoding": {"x": {"field": "g", "type": "nominal", "axis": {"title": null, "labelAngle": -90, "labelFontSize": 9.5, "labelPadding": 3, "ticks": false, "domainWidth": 1.5, "labelOverlap": false}}, "y": {"field": "hi", "type": "quantitative", "axis": {"orient": "left", "values": [0.05, 0.3, 0.55], "format": ".2f", "title": null, "labelFontSize": 12, "tickSize": 5, "tickWidth": 1.5, "domainWidth": 1.5, "labelPadding": 3}}}},
        {"data": {"values": [{"t": "CAF3"}]}, "mark": {"type": "text", "fontSize": 12.5, "fontWeight": "bold", "baseline": "middle", "color": "black"}, "encoding": {"x": {"datum": "Wnt5b", "axis": {"title": null, "labelAngle": -90, "labelFontSize": 9.5, "labelPadding": 3, "ticks": false, "domainWidth": 1.5, "labelOverlap": false}}, "y": {"datum": 0.48, "axis": {"orient": "left", "values": [0.05, 0.3, 0.55], "format": ".2f", "title": null, "labelFontSize": 12, "tickSize": 5, "tickWidth": 1.5, "domainWidth": 1.5, "labelPadding": 3}}, "text": {"field": "t"}}}
      ]},
      {"layer": [
        {"data": {"name": "a4"}, "mark": {"type": "bar", "fill": "#a5a5ad", "stroke": "black", "strokeWidth": 1.5}, "encoding": {"x": {"field": "g", "type": "nominal", "axis": {"title": null, "labelAngle": -90, "labelFontSize": 9.5, "labelPadding": 3, "ticks": false, "domainWidth": 1.5, "labelOverlap": false}}, "y": {"field": "v", "type": "quantitative", "scale": {"domain": [0, 0.03], "range": [124, 46.3], "clamp": true, "nice": false}, "axis": {"orient": "left", "values": [0, 0.01, 0.02, 0.03], "format": ".2f", "title": "mRNA level/GAPDH", "titleFontSize": 13, "titlePadding": 7, "titleY": 62, "labelFontSize": 12, "tickSize": 5, "tickWidth": 1.5, "domainWidth": 1.5, "labelPadding": 3}}}},
        {"data": {"name": "a4"}, "transform": [{"filter": "datum.v < 0.03 && datum.hi > datum.v"}], "mark": {"type": "rule", "color": "black", "strokeWidth": 1.5}, "encoding": {"x": {"field": "g", "type": "nominal", "axis": {"title": null, "labelAngle": -90, "labelFontSize": 9.5, "labelPadding": 3, "ticks": false, "domainWidth": 1.5, "labelOverlap": false}}, "y": {"field": "v", "type": "quantitative", "axis": {"orient": "left", "values": [0, 0.01, 0.02, 0.03], "format": ".2f", "title": "mRNA level/GAPDH", "titleFontSize": 13, "titlePadding": 7, "titleY": 62, "labelFontSize": 12, "tickSize": 5, "tickWidth": 1.5, "domainWidth": 1.5, "labelPadding": 3}}, "y2": {"field": "hi"}}},
        {"data": {"name": "a4"}, "transform": [{"filter": "datum.v < 0.03 && datum.hi > datum.v"}], "mark": {"type": "tick", "orient": "horizontal", "size": 5, "thickness": 1.5, "color": "black"}, "encoding": {"x": {"field": "g", "type": "nominal", "axis": {"title": null, "labelAngle": -90, "labelFontSize": 9.5, "labelPadding": 3, "ticks": false, "domainWidth": 1.5, "labelOverlap": false}}, "y": {"field": "hi", "type": "quantitative", "axis": {"orient": "left", "values": [0, 0.01, 0.02, 0.03], "format": ".2f", "title": "mRNA level/GAPDH", "titleFontSize": 13, "titlePadding": 7, "titleY": 62, "labelFontSize": 12, "tickSize": 5, "tickWidth": 1.5, "domainWidth": 1.5, "labelPadding": 3}}}}
      ]}
    ],
    "resolve": {"scale": {"y": "independent"}, "axis": {"y": "independent"}}
  }
  ]
},
{
  "bounds": "flush",
  "spacing": 77,
  "resolve": {"scale": {"color": "independent", "xOffset": "independent"}},
  "vconcat": [
  {
    "width": 236, "height": 151,
    "view": {"stroke": "black", "strokeWidth": 1},
    "layer": [
      {"data": {"name": "km1"}, "mark": {"type": "line", "interpolate": "step-after", "strokeWidth": 1.3},
       "encoding": {
         "x": {"field": "t", "type": "quantitative", "scale": {"domain": [-0.3, 54.3], "nice": false, "zero": false}, "axis": {"title": "Months", "values": [0, 10, 20, 30, 40, 50], "labelFontSize": 12.5, "titleFontSize": 13.5, "tickSize": 5, "domain": false, "labelPadding": 2, "titlePadding": 1, "labelFlush": false}},
         "y": {"field": "s", "type": "quantitative", "scale": {"domain": [-0.05, 1.094], "nice": false, "zero": false}, "axis": {"title": "Overall survival", "values": [0, 0.2, 0.4, 0.6, 0.8, 1], "format": ".1f", "labelFontSize": 12.5, "titleFontSize": 15, "tickSize": 5, "domain": false, "labelPadding": 3, "titlePadding": 3}},
         "color": {"field": "grp", "type": "nominal", "scale": {"domain": ["low", "high"], "range": ["#39c239", "#f03a3a"]}, "legend": null}}},
      {"data": {"name": "cens1"}, "mark": {"type": "tick", "orient": "vertical", "size": 6, "thickness": 1},
       "encoding": {"x": {"field": "t", "type": "quantitative", "axis": {"title": "Months", "values": [0, 10, 20, 30, 40, 50], "labelFontSize": 12.5, "titleFontSize": 13.5, "tickSize": 5, "domain": false, "labelPadding": 2, "titlePadding": 1, "labelFlush": false}}, "y": {"field": "s", "type": "quantitative", "axis": {"title": "Overall survival", "values": [0, 0.2, 0.4, 0.6, 0.8, 1], "format": ".1f", "labelFontSize": 12.5, "titleFontSize": 15, "tickSize": 5, "domain": false, "labelPadding": 3, "titlePadding": 3}}, "color": {"field": "grp", "type": "nominal", "scale": {"domain": ["low", "high"], "range": ["#39c239", "#f03a3a"]}, "legend": null}}},
      {"data": {"values": [{"lab": "low risk  (n=76)"}]}, "mark": {"type": "rule", "color": "#2aa845", "strokeWidth": 2}, "encoding": {"x": {"datum": 3.7, "axis": {"title": "Months", "values": [0, 10, 20, 30, 40, 50], "labelFontSize": 12.5, "titleFontSize": 13.5, "tickSize": 5, "domain": false, "labelPadding": 2, "titlePadding": 1, "labelFlush": false}}, "x2": {"datum": 7.8}, "y": {"datum": 0.291, "axis": {"title": "Overall survival", "values": [0, 0.2, 0.4, 0.6, 0.8, 1], "format": ".1f", "labelFontSize": 12.5, "titleFontSize": 15, "tickSize": 5, "domain": false, "labelPadding": 3, "titlePadding": 3}}}},
      {"data": {"values": [{"lab": "low risk  (n=76)"}]}, "mark": {"type": "text", "align": "left", "baseline": "middle", "fontSize": 13, "fontWeight": "bold", "color": "black"}, "encoding": {"x": {"datum": 9.9, "axis": {"title": "Months", "values": [0, 10, 20, 30, 40, 50], "labelFontSize": 12.5, "titleFontSize": 13.5, "tickSize": 5, "domain": false, "labelPadding": 2, "titlePadding": 1, "labelFlush": false}}, "y": {"datum": 0.291, "axis": {"title": "Overall survival", "values": [0, 0.2, 0.4, 0.6, 0.8, 1], "format": ".1f", "labelFontSize": 12.5, "titleFontSize": 15, "tickSize": 5, "domain": false, "labelPadding": 3, "titlePadding": 3}}, "text": {"field": "lab"}}},
      {"data": {"values": [{"lab": "high risk (n=75)"}]}, "mark": {"type": "rule", "color": "#ee2a2a", "strokeWidth": 2}, "encoding": {"x": {"datum": 3.7, "axis": {"title": "Months", "values": [0, 10, 20, 30, 40, 50], "labelFontSize": 12.5, "titleFontSize": 13.5, "tickSize": 5, "domain": false, "labelPadding": 2, "titlePadding": 1, "labelFlush": false}}, "x2": {"datum": 7.8}, "y": {"datum": 0.169, "axis": {"title": "Overall survival", "values": [0, 0.2, 0.4, 0.6, 0.8, 1], "format": ".1f", "labelFontSize": 12.5, "titleFontSize": 15, "tickSize": 5, "domain": false, "labelPadding": 3, "titlePadding": 3}}}},
      {"data": {"values": [{"lab": "high risk (n=75)"}]}, "mark": {"type": "text", "align": "left", "baseline": "middle", "fontSize": 13, "fontWeight": "bold", "color": "black"}, "encoding": {"x": {"datum": 9.9, "axis": {"title": "Months", "values": [0, 10, 20, 30, 40, 50], "labelFontSize": 12.5, "titleFontSize": 13.5, "tickSize": 5, "domain": false, "labelPadding": 2, "titlePadding": 1, "labelFlush": false}}, "y": {"datum": 0.169, "axis": {"title": "Overall survival", "values": [0, 0.2, 0.4, 0.6, 0.8, 1], "format": ".1f", "labelFontSize": 12.5, "titleFontSize": 15, "tickSize": 5, "domain": false, "labelPadding": 3, "titlePadding": 3}}, "text": {"field": "lab"}}},
      {"data": {"values": [{"lab": "P"}]}, "mark": {"type": "text", "align": "left", "baseline": "middle", "fontSize": 13, "fontWeight": "bold", "fontStyle": "italic", "color": "black"}, "encoding": {"x": {"datum": 9.9, "axis": {"title": "Months", "values": [0, 10, 20, 30, 40, 50], "labelFontSize": 12.5, "titleFontSize": 13.5, "tickSize": 5, "domain": false, "labelPadding": 2, "titlePadding": 1, "labelFlush": false}}, "y": {"datum": 0.04, "axis": {"title": "Overall survival", "values": [0, 0.2, 0.4, 0.6, 0.8, 1], "format": ".1f", "labelFontSize": 12.5, "titleFontSize": 15, "tickSize": 5, "domain": false, "labelPadding": 3, "titlePadding": 3}}, "text": {"field": "lab"}}},
      {"data": {"values": [{"lab": "= 0.1146"}]}, "mark": {"type": "text", "align": "left", "baseline": "middle", "fontSize": 13, "fontWeight": "bold", "dx": 12, "color": "black"}, "encoding": {"x": {"datum": 9.9, "axis": {"title": "Months", "values": [0, 10, 20, 30, 40, 50], "labelFontSize": 12.5, "titleFontSize": 13.5, "tickSize": 5, "domain": false, "labelPadding": 2, "titlePadding": 1, "labelFlush": false}}, "y": {"datum": 0.04, "axis": {"title": "Overall survival", "values": [0, 0.2, 0.4, 0.6, 0.8, 1], "format": ".1f", "labelFontSize": 12.5, "titleFontSize": 15, "tickSize": 5, "domain": false, "labelPadding": 3, "titlePadding": 3}}, "text": {"field": "lab"}}},
      {"data": {"values": [{"t": "Human colorectal\nadenocarcinoma (TCGA)"}]}, "mark": {"type": "text", "fontSize": 13, "fontWeight": "bold", "baseline": "alphabetic", "lineBreak": "\n", "lineHeight": 16, "dy": -23.3, "color": "black"}, "encoding": {"x": {"datum": 26, "axis": {"title": "Months", "values": [0, 10, 20, 30, 40, 50], "labelFontSize": 12.5, "titleFontSize": 13.5, "tickSize": 5, "domain": false, "labelPadding": 2, "titlePadding": 1, "labelFlush": false}}, "y": {"datum": 1.094, "axis": {"title": "Overall survival", "values": [0, 0.2, 0.4, 0.6, 0.8, 1], "format": ".1f", "labelFontSize": 12.5, "titleFontSize": 15, "tickSize": 5, "domain": false, "labelPadding": 3, "titlePadding": 3}}, "text": {"field": "t"}}},
      {"data": {"values": [{"t": "b"}]}, "mark": {"type": "text", "fontSize": 17, "fontWeight": "bold", "align": "left", "baseline": "alphabetic", "dx": -42, "dy": -34.3, "color": "black"}, "encoding": {"x": {"datum": -0.3, "axis": {"title": "Months", "values": [0, 10, 20, 30, 40, 50], "labelFontSize": 12.5, "titleFontSize": 13.5, "tickSize": 5, "domain": false, "labelPadding": 2, "titlePadding": 1, "labelFlush": false}}, "y": {"datum": 1.094, "axis": {"title": "Overall survival", "values": [0, 0.2, 0.4, 0.6, 0.8, 1], "format": ".1f", "labelFontSize": 12.5, "titleFontSize": 15, "tickSize": 5, "domain": false, "labelPadding": 3, "titlePadding": 3}}, "text": {"field": "t"}}}
    ]
  },
  {
    "width": 236, "height": 125,
    "view": {"stroke": "black", "strokeWidth": 1.2},
    "encoding": {"x": {"field": "gene", "type": "nominal", "scale": {"domain": ["Wnt2","Wnt2b","Wnt3","Wnt3a","Wnt4","Wnt5a","Wnt5b"], "paddingInner": 0, "paddingOuter": 0}, "axis": {"title": null, "labelAngle": 0, "labelFontSize": 10.5, "ticks": false, "domain": false, "labelPadding": 3}}},
    "layer": [
      {"data": {"name": "box1"}, "transform": [{"filter": "datum.grp == 'low'"}], "mark": {"type": "rule", "color": "#d0d0d0", "strokeWidth": 1}, "encoding": {"x": {"field": "gene", "type": "nominal", "bandPosition": 0, "axis": {"title": null, "labelAngle": 0, "labelFontSize": 10.5, "ticks": false, "domain": false, "labelPadding": 3}}}},
      {"data": {"name": "box1"}, "mark": {"type": "rule", "strokeDash": [2, 2], "strokeWidth": 1}, "encoding": {"xOffset": {"field": "grp", "type": "nominal", "scale": {"domain": ["low", "high"], "paddingInner": 0.2, "paddingOuter": 0.1}}, "y": {"field": "q3", "type": "quantitative", "scale": {"domain": [-0.047, 1.134], "nice": false, "zero": false}, "axis": {"title": "Gene expression level", "values": [0, 0.2, 0.4, 0.6, 0.8, 1], "format": ".1f", "labelFontSize": 12.5, "titleFontSize": 13, "tickSize": 5, "domain": false, "labelPadding": 3, "titlePadding": 3}}, "y2": {"field": "hi"}, "color": {"field": "grp", "type": "nominal", "scale": {"domain": ["low", "high"], "range": ["#5fd35f", "#ef4545"]}, "legend": null}}},
      {"data": {"name": "box1"}, "mark": {"type": "rule", "strokeDash": [2, 2], "strokeWidth": 1}, "encoding": {"xOffset": {"field": "grp", "type": "nominal", "scale": {"domain": ["low", "high"], "paddingInner": 0.2, "paddingOuter": 0.1}}, "y": {"field": "lo", "type": "quantitative", "axis": {"title": "Gene expression level", "values": [0, 0.2, 0.4, 0.6, 0.8, 1], "format": ".1f", "labelFontSize": 12.5, "titleFontSize": 13, "tickSize": 5, "domain": false, "labelPadding": 3, "titlePadding": 3}}, "y2": {"field": "q1"}, "color": {"field": "grp", "type": "nominal", "scale": {"domain": ["low", "high"], "range": ["#5fd35f", "#ef4545"]}, "legend": null}}},
      {"data": {"name": "box1"}, "mark": {"type": "tick", "orient": "horizontal", "size": 6, "thickness": 1}, "encoding": {"xOffset": {"field": "grp", "type": "nominal", "scale": {"domain": ["low", "high"], "paddingInner": 0.2, "paddingOuter": 0.1}}, "y": {"field": "hi", "type": "quantitative", "axis": {"title": "Gene expression level", "values": [0, 0.2, 0.4, 0.6, 0.8, 1], "format": ".1f", "labelFontSize": 12.5, "titleFontSize": 13, "tickSize": 5, "domain": false, "labelPadding": 3, "titlePadding": 3}}, "color": {"field": "grp", "type": "nominal", "scale": {"domain": ["low", "high"], "range": ["#5fd35f", "#ef4545"]}, "legend": null}}},
      {"data": {"name": "box1"}, "mark": {"type": "tick", "orient": "horizontal", "size": 6, "thickness": 1}, "encoding": {"xOffset": {"field": "grp", "type": "nominal", "scale": {"domain": ["low", "high"], "paddingInner": 0.2, "paddingOuter": 0.1}}, "y": {"field": "lo", "type": "quantitative", "axis": {"title": "Gene expression level", "values": [0, 0.2, 0.4, 0.6, 0.8, 1], "format": ".1f", "labelFontSize": 12.5, "titleFontSize": 13, "tickSize": 5, "domain": false, "labelPadding": 3, "titlePadding": 3}}, "color": {"field": "grp", "type": "nominal", "scale": {"domain": ["low", "high"], "range": ["#5fd35f", "#ef4545"]}, "legend": null}}},
      {"data": {"name": "box1"}, "mark": {"type": "bar", "filled": false, "fill": "white", "strokeWidth": 1.2}, "encoding": {"xOffset": {"field": "grp", "type": "nominal", "scale": {"domain": ["low", "high"], "paddingInner": 0.2, "paddingOuter": 0.1}}, "y": {"field": "q1", "type": "quantitative", "axis": {"title": "Gene expression level", "values": [0, 0.2, 0.4, 0.6, 0.8, 1], "format": ".1f", "labelFontSize": 12.5, "titleFontSize": 13, "tickSize": 5, "domain": false, "labelPadding": 3, "titlePadding": 3}}, "y2": {"field": "q3"}, "color": {"field": "grp", "type": "nominal", "scale": {"domain": ["low", "high"], "range": ["#5fd35f", "#ef4545"]}, "legend": null}}},
      {"data": {"name": "box1"}, "mark": {"type": "tick", "orient": "horizontal", "size": 13, "thickness": 1.8}, "encoding": {"xOffset": {"field": "grp", "type": "nominal", "scale": {"domain": ["low", "high"], "paddingInner": 0.2, "paddingOuter": 0.1}}, "y": {"field": "med", "type": "quantitative", "axis": {"title": "Gene expression level", "values": [0, 0.2, 0.4, 0.6, 0.8, 1], "format": ".1f", "labelFontSize": 12.5, "titleFontSize": 13, "tickSize": 5, "domain": false, "labelPadding": 3, "titlePadding": 3}}, "color": {"field": "grp", "type": "nominal", "scale": {"domain": ["low", "high"], "range": ["#5fd35f", "#ef4545"]}, "legend": null}}},
      {"data": {"name": "out1"}, "mark": {"type": "point", "filled": false, "size": 14, "strokeWidth": 1, "opacity": 1}, "encoding": {"xOffset": {"field": "grp", "type": "nominal", "scale": {"domain": ["low", "high"], "paddingInner": 0.2, "paddingOuter": 0.1}}, "y": {"field": "v", "type": "quantitative", "axis": {"title": "Gene expression level", "values": [0, 0.2, 0.4, 0.6, 0.8, 1], "format": ".1f", "labelFontSize": 12.5, "titleFontSize": 13, "tickSize": 5, "domain": false, "labelPadding": 3, "titlePadding": 3}}, "color": {"field": "grp", "type": "nominal", "scale": {"domain": ["low", "high"], "range": ["#5fd35f", "#ef4545"]}, "legend": null}}},
      {"data": {"name": "star1"}, "mark": {"type": "text", "fontSize": 11, "fontWeight": "bold", "baseline": "middle", "dy": 2, "color": "black"}, "encoding": {"xOffset": {"field": "grp", "type": "nominal", "scale": {"domain": ["low", "high"], "paddingInner": 0.2, "paddingOuter": 0.1}}, "y": {"field": "y", "type": "quantitative", "axis": {"title": "Gene expression level", "values": [0, 0.2, 0.4, 0.6, 0.8, 1], "format": ".1f", "labelFontSize": 12.5, "titleFontSize": 13, "tickSize": 5, "domain": false, "labelPadding": 3, "titlePadding": 3}}, "text": {"field": "lab"}}},
      {"data": {"values": [{"lab": "low risk  (n=76)"}]}, "mark": {"type": "point", "filled": false, "size": 30, "strokeWidth": 1.6, "color": "#1e9e46", "opacity": 1}, "encoding": {"x": {"datum": "Wnt2", "axis": {"title": null, "labelAngle": 0, "labelFontSize": 10.5, "ticks": false, "domain": false, "labelPadding": 3}}, "y": {"datum": 1.398, "axis": {"title": "Gene expression level", "values": [0, 0.2, 0.4, 0.6, 0.8, 1], "format": ".1f", "labelFontSize": 12.5, "titleFontSize": 13, "tickSize": 5, "domain": false, "labelPadding": 3, "titlePadding": 3}}}},
      {"data": {"values": [{"lab": "low risk  (n=76)"}]}, "mark": {"type": "text", "align": "left", "baseline": "middle", "fontSize": 13, "fontWeight": "bold", "dx": 14, "color": "black"}, "encoding": {"x": {"datum": "Wnt2", "axis": {"title": null, "labelAngle": 0, "labelFontSize": 10.5, "ticks": false, "domain": false, "labelPadding": 3}}, "y": {"datum": 1.398, "axis": {"title": "Gene expression level", "values": [0, 0.2, 0.4, 0.6, 0.8, 1], "format": ".1f", "labelFontSize": 12.5, "titleFontSize": 13, "tickSize": 5, "domain": false, "labelPadding": 3, "titlePadding": 3}}, "text": {"field": "lab"}}},
      {"data": {"values": [{"lab": "high risk (n=75)"}]}, "mark": {"type": "point", "filled": false, "size": 30, "strokeWidth": 1.6, "color": "#dd2020", "opacity": 1}, "encoding": {"x": {"datum": "Wnt2", "axis": {"title": null, "labelAngle": 0, "labelFontSize": 10.5, "ticks": false, "domain": false, "labelPadding": 3}}, "y": {"datum": 1.24, "axis": {"title": "Gene expression level", "values": [0, 0.2, 0.4, 0.6, 0.8, 1], "format": ".1f", "labelFontSize": 12.5, "titleFontSize": 13, "tickSize": 5, "domain": false, "labelPadding": 3, "titlePadding": 3}}}},
      {"data": {"values": [{"lab": "high risk (n=75)"}]}, "mark": {"type": "text", "align": "left", "baseline": "middle", "fontSize": 13, "fontWeight": "bold", "dx": 14, "color": "black"}, "encoding": {"x": {"datum": "Wnt2", "axis": {"title": null, "labelAngle": 0, "labelFontSize": 10.5, "ticks": false, "domain": false, "labelPadding": 3}}, "y": {"datum": 1.24, "axis": {"title": "Gene expression level", "values": [0, 0.2, 0.4, 0.6, 0.8, 1], "format": ".1f", "labelFontSize": 12.5, "titleFontSize": 13, "tickSize": 5, "domain": false, "labelPadding": 3, "titlePadding": 3}}, "text": {"field": "lab"}}}
    ]
  },
  {
    "width": 236, "height": 151,
    "view": {"stroke": "black", "strokeWidth": 1},
    "layer": [
      {"data": {"name": "km2"}, "mark": {"type": "line", "interpolate": "step-after", "strokeWidth": 1.3},
       "encoding": {
         "x": {"field": "t", "type": "quantitative", "scale": {"domain": [-0.3, 62.3], "nice": false, "zero": false}, "axis": {"title": "Months", "values": [0, 10, 20, 30, 40, 50, 60], "labelFontSize": 12.5, "titleFontSize": 13.5, "tickSize": 5, "domain": false, "labelPadding": 2, "titlePadding": 1, "labelFlush": false}},
         "y": {"field": "s", "type": "quantitative", "scale": {"domain": [-0.045, 1.088], "nice": false, "zero": false}, "axis": {"title": "Overall survival", "values": [0, 0.2, 0.4, 0.6, 0.8, 1], "format": ".1f", "labelFontSize": 12.5, "titleFontSize": 15, "tickSize": 5, "domain": false, "labelPadding": 3, "titlePadding": 3}},
         "color": {"field": "grp", "type": "nominal", "scale": {"domain": ["low", "high"], "range": ["#39c239", "#f03a3a"]}, "legend": null}}},
      {"data": {"name": "cens2"}, "mark": {"type": "tick", "orient": "vertical", "size": 6, "thickness": 1},
       "encoding": {"x": {"field": "t", "type": "quantitative", "axis": {"title": "Months", "values": [0, 10, 20, 30, 40, 50, 60], "labelFontSize": 12.5, "titleFontSize": 13.5, "tickSize": 5, "domain": false, "labelPadding": 2, "titlePadding": 1, "labelFlush": false}}, "y": {"field": "s", "type": "quantitative", "axis": {"title": "Overall survival", "values": [0, 0.2, 0.4, 0.6, 0.8, 1], "format": ".1f", "labelFontSize": 12.5, "titleFontSize": 15, "tickSize": 5, "domain": false, "labelPadding": 3, "titlePadding": 3}}, "color": {"field": "grp", "type": "nominal", "scale": {"domain": ["low", "high"], "range": ["#39c239", "#f03a3a"]}, "legend": null}}},
      {"data": {"values": [{"lab": "low risk  (n=58)"}]}, "mark": {"type": "rule", "color": "#2aa845", "strokeWidth": 2}, "encoding": {"x": {"datum": 2.6, "axis": {"title": "Months", "values": [0, 10, 20, 30, 40, 50, 60], "labelFontSize": 12.5, "titleFontSize": 13.5, "tickSize": 5, "domain": false, "labelPadding": 2, "titlePadding": 1, "labelFlush": false}}, "x2": {"datum": 7.9}, "y": {"datum": 0.31, "axis": {"title": "Overall survival", "values": [0, 0.2, 0.4, 0.6, 0.8, 1], "format": ".1f", "labelFontSize": 12.5, "titleFontSize": 15, "tickSize": 5, "domain": false, "labelPadding": 3, "titlePadding": 3}}}},
      {"data": {"values": [{"lab": "low risk  (n=58)"}]}, "mark": {"type": "text", "align": "left", "baseline": "middle", "fontSize": 13, "fontWeight": "bold", "color": "black"}, "encoding": {"x": {"datum": 10.1, "axis": {"title": "Months", "values": [0, 10, 20, 30, 40, 50, 60], "labelFontSize": 12.5, "titleFontSize": 13.5, "tickSize": 5, "domain": false, "labelPadding": 2, "titlePadding": 1, "labelFlush": false}}, "y": {"datum": 0.31, "axis": {"title": "Overall survival", "values": [0, 0.2, 0.4, 0.6, 0.8, 1], "format": ".1f", "labelFontSize": 12.5, "titleFontSize": 15, "tickSize": 5, "domain": false, "labelPadding": 3, "titlePadding": 3}}, "text": {"field": "lab"}}},
      {"data": {"values": [{"lab": "high risk (n=19)"}]}, "mark": {"type": "rule", "color": "#ee2a2a", "strokeWidth": 2}, "encoding": {"x": {"datum": 2.6, "axis": {"title": "Months", "values": [0, 10, 20, 30, 40, 50, 60], "labelFontSize": 12.5, "titleFontSize": 13.5, "tickSize": 5, "domain": false, "labelPadding": 2, "titlePadding": 1, "labelFlush": false}}, "x2": {"datum": 7.9}, "y": {"datum": 0.195, "axis": {"title": "Overall survival", "values": [0, 0.2, 0.4, 0.6, 0.8, 1], "format": ".1f", "labelFontSize": 12.5, "titleFontSize": 15, "tickSize": 5, "domain": false, "labelPadding": 3, "titlePadding": 3}}}},
      {"data": {"values": [{"lab": "high risk (n=19)"}]}, "mark": {"type": "text", "align": "left", "baseline": "middle", "fontSize": 13, "fontWeight": "bold", "color": "black"}, "encoding": {"x": {"datum": 10.1, "axis": {"title": "Months", "values": [0, 10, 20, 30, 40, 50, 60], "labelFontSize": 12.5, "titleFontSize": 13.5, "tickSize": 5, "domain": false, "labelPadding": 2, "titlePadding": 1, "labelFlush": false}}, "y": {"datum": 0.195, "axis": {"title": "Overall survival", "values": [0, 0.2, 0.4, 0.6, 0.8, 1], "format": ".1f", "labelFontSize": 12.5, "titleFontSize": 15, "tickSize": 5, "domain": false, "labelPadding": 3, "titlePadding": 3}}, "text": {"field": "lab"}}},
      {"data": {"values": [{"lab": "P"}]}, "mark": {"type": "text", "align": "left", "baseline": "middle", "fontSize": 13, "fontWeight": "bold", "fontStyle": "italic", "color": "black"}, "encoding": {"x": {"datum": 10.1, "axis": {"title": "Months", "values": [0, 10, 20, 30, 40, 50, 60], "labelFontSize": 12.5, "titleFontSize": 13.5, "tickSize": 5, "domain": false, "labelPadding": 2, "titlePadding": 1, "labelFlush": false}}, "y": {"datum": 0.05, "axis": {"title": "Overall survival", "values": [0, 0.2, 0.4, 0.6, 0.8, 1], "format": ".1f", "labelFontSize": 12.5, "titleFontSize": 15, "tickSize": 5, "domain": false, "labelPadding": 3, "titlePadding": 3}}, "text": {"field": "lab"}}},
      {"data": {"values": [{"lab": "= 0.001002"}]}, "mark": {"type": "text", "align": "left", "baseline": "middle", "fontSize": 13, "fontWeight": "bold", "dx": 12, "color": "black"}, "encoding": {"x": {"datum": 10.1, "axis": {"title": "Months", "values": [0, 10, 20, 30, 40, 50, 60], "labelFontSize": 12.5, "titleFontSize": 13.5, "tickSize": 5, "domain": false, "labelPadding": 2, "titlePadding": 1, "labelFlush": false}}, "y": {"datum": 0.05, "axis": {"title": "Overall survival", "values": [0, 0.2, 0.4, 0.6, 0.8, 1], "format": ".1f", "labelFontSize": 12.5, "titleFontSize": 15, "tickSize": 5, "domain": false, "labelPadding": 3, "titlePadding": 3}}, "text": {"field": "lab"}}},
      {"data": {"values": [{"t": "Human colorectal\nadenocarcinoma (GSE24550)"}]}, "mark": {"type": "text", "fontSize": 13, "fontWeight": "bold", "baseline": "alphabetic", "lineBreak": "\n", "lineHeight": 16, "dy": -20.3, "color": "black"}, "encoding": {"x": {"datum": 29.8, "axis": {"title": "Months", "values": [0, 10, 20, 30, 40, 50, 60], "labelFontSize": 12.5, "titleFontSize": 13.5, "tickSize": 5, "domain": false, "labelPadding": 2, "titlePadding": 1, "labelFlush": false}}, "y": {"datum": 1.088, "axis": {"title": "Overall survival", "values": [0, 0.2, 0.4, 0.6, 0.8, 1], "format": ".1f", "labelFontSize": 12.5, "titleFontSize": 15, "tickSize": 5, "domain": false, "labelPadding": 3, "titlePadding": 3}}, "text": {"field": "t"}}}
    ]
  },
  {
    "width": 236, "height": 125,
    "view": {"stroke": "black", "strokeWidth": 1.2},
    "encoding": {"x": {"field": "gene", "type": "nominal", "scale": {"domain": ["Wnt2","Wnt2b","Wnt3","Wnt3a","Wnt4","Wnt5a","Wnt5b"], "paddingInner": 0, "paddingOuter": 0}, "axis": {"title": null, "labelAngle": 0, "labelFontSize": 10.5, "ticks": false, "domain": false, "labelPadding": 3}}},
    "layer": [
      {"data": {"name": "box2"}, "transform": [{"filter": "datum.grp == 'low'"}], "mark": {"type": "rule", "color": "#d0d0d0", "strokeWidth": 1}, "encoding": {"x": {"field": "gene", "type": "nominal", "bandPosition": 0, "axis": {"title": null, "labelAngle": 0, "labelFontSize": 10.5, "ticks": false, "domain": false, "labelPadding": 3}}}},
      {"data": {"name": "box2"}, "mark": {"type": "rule", "strokeDash": [2, 2], "strokeWidth": 1}, "encoding": {"xOffset": {"field": "grp", "type": "nominal", "scale": {"domain": ["low", "high"], "paddingInner": 0.2, "paddingOuter": 0.1}}, "y": {"field": "q3", "type": "quantitative", "scale": {"domain": [0.378, 0.676], "nice": false, "zero": false}, "axis": {"title": "Gene expression level", "values": [0.4, 0.45, 0.5, 0.55, 0.6, 0.65], "format": ".2f", "labelFontSize": 12.5, "titleFontSize": 13, "tickSize": 3, "domain": false, "labelPadding": 1, "titlePadding": 2}}, "y2": {"field": "hi"}, "color": {"field": "grp", "type": "nominal", "scale": {"domain": ["low", "high"], "range": ["#2fb52f", "#f07373"]}, "legend": null}}},
      {"data": {"name": "box2"}, "mark": {"type": "rule", "strokeDash": [2, 2], "strokeWidth": 1}, "encoding": {"xOffset": {"field": "grp", "type": "nominal", "scale": {"domain": ["low", "high"], "paddingInner": 0.2, "paddingOuter": 0.1}}, "y": {"field": "lo", "type": "quantitative", "axis": {"title": "Gene expression level", "values": [0.4, 0.45, 0.5, 0.55, 0.6, 0.65], "format": ".2f", "labelFontSize": 12.5, "titleFontSize": 13, "tickSize": 3, "domain": false, "labelPadding": 1, "titlePadding": 2}}, "y2": {"field": "q1"}, "color": {"field": "grp", "type": "nominal", "scale": {"domain": ["low", "high"], "range": ["#2fb52f", "#f07373"]}, "legend": null}}},
      {"data": {"name": "box2"}, "mark": {"type": "tick", "orient": "horizontal", "size": 6, "thickness": 1}, "encoding": {"xOffset": {"field": "grp", "type": "nominal", "scale": {"domain": ["low", "high"], "paddingInner": 0.2, "paddingOuter": 0.1}}, "y": {"field": "hi", "type": "quantitative", "axis": {"title": "Gene expression level", "values": [0.4, 0.45, 0.5, 0.55, 0.6, 0.65], "format": ".2f", "labelFontSize": 12.5, "titleFontSize": 13, "tickSize": 3, "domain": false, "labelPadding": 1, "titlePadding": 2}}, "color": {"field": "grp", "type": "nominal", "scale": {"domain": ["low", "high"], "range": ["#2fb52f", "#f07373"]}, "legend": null}}},
      {"data": {"name": "box2"}, "mark": {"type": "tick", "orient": "horizontal", "size": 6, "thickness": 1}, "encoding": {"xOffset": {"field": "grp", "type": "nominal", "scale": {"domain": ["low", "high"], "paddingInner": 0.2, "paddingOuter": 0.1}}, "y": {"field": "lo", "type": "quantitative", "axis": {"title": "Gene expression level", "values": [0.4, 0.45, 0.5, 0.55, 0.6, 0.65], "format": ".2f", "labelFontSize": 12.5, "titleFontSize": 13, "tickSize": 3, "domain": false, "labelPadding": 1, "titlePadding": 2}}, "color": {"field": "grp", "type": "nominal", "scale": {"domain": ["low", "high"], "range": ["#2fb52f", "#f07373"]}, "legend": null}}},
      {"data": {"name": "box2"}, "mark": {"type": "bar", "filled": false, "fill": "white", "strokeWidth": 1.2}, "encoding": {"xOffset": {"field": "grp", "type": "nominal", "scale": {"domain": ["low", "high"], "paddingInner": 0.2, "paddingOuter": 0.1}}, "y": {"field": "q1", "type": "quantitative", "axis": {"title": "Gene expression level", "values": [0.4, 0.45, 0.5, 0.55, 0.6, 0.65], "format": ".2f", "labelFontSize": 12.5, "titleFontSize": 13, "tickSize": 3, "domain": false, "labelPadding": 1, "titlePadding": 2}}, "y2": {"field": "q3"}, "color": {"field": "grp", "type": "nominal", "scale": {"domain": ["low", "high"], "range": ["#2fb52f", "#f07373"]}, "legend": null}}},
      {"data": {"name": "box2"}, "mark": {"type": "tick", "orient": "horizontal", "size": 13, "thickness": 1.8}, "encoding": {"xOffset": {"field": "grp", "type": "nominal", "scale": {"domain": ["low", "high"], "paddingInner": 0.2, "paddingOuter": 0.1}}, "y": {"field": "med", "type": "quantitative", "axis": {"title": "Gene expression level", "values": [0.4, 0.45, 0.5, 0.55, 0.6, 0.65], "format": ".2f", "labelFontSize": 12.5, "titleFontSize": 13, "tickSize": 3, "domain": false, "labelPadding": 1, "titlePadding": 2}}, "color": {"field": "grp", "type": "nominal", "scale": {"domain": ["low", "high"], "range": ["#2fb52f", "#f07373"]}, "legend": null}}},
      {"data": {"name": "out2"}, "mark": {"type": "point", "filled": false, "size": 14, "strokeWidth": 1.5, "opacity": 1}, "encoding": {"xOffset": {"field": "grp", "type": "nominal", "scale": {"domain": ["low", "high"], "paddingInner": 0.2, "paddingOuter": 0.1}}, "y": {"field": "v", "type": "quantitative", "axis": {"title": "Gene expression level", "values": [0.4, 0.45, 0.5, 0.55, 0.6, 0.65], "format": ".2f", "labelFontSize": 12.5, "titleFontSize": 13, "tickSize": 3, "domain": false, "labelPadding": 1, "titlePadding": 2}}, "color": {"field": "grp", "type": "nominal", "scale": {"domain": ["low", "high"], "range": ["#2fb52f", "#f07373"]}, "legend": null}}},
      {"data": {"name": "star2"}, "mark": {"type": "text", "fontSize": 11, "fontWeight": "bold", "baseline": "middle", "dy": 2, "color": "black"}, "encoding": {"xOffset": {"field": "grp", "type": "nominal", "scale": {"domain": ["low", "high"], "paddingInner": 0.2, "paddingOuter": 0.1}}, "y": {"field": "y", "type": "quantitative", "axis": {"title": "Gene expression level", "values": [0.4, 0.45, 0.5, 0.55, 0.6, 0.65], "format": ".2f", "labelFontSize": 12.5, "titleFontSize": 13, "tickSize": 3, "domain": false, "labelPadding": 1, "titlePadding": 2}}, "text": {"field": "lab"}}},
      {"data": {"values": [{"lab": "low risk  (n=58)"}]}, "mark": {"type": "point", "filled": false, "size": 30, "strokeWidth": 1.6, "color": "#1e9e46", "opacity": 1}, "encoding": {"x": {"datum": "Wnt2", "axis": {"title": null, "labelAngle": 0, "labelFontSize": 10.5, "ticks": false, "domain": false, "labelPadding": 3}}, "y": {"datum": 0.745, "axis": {"title": "Gene expression level", "values": [0.4, 0.45, 0.5, 0.55, 0.6, 0.65], "format": ".2f", "labelFontSize": 12.5, "titleFontSize": 13, "tickSize": 3, "domain": false, "labelPadding": 1, "titlePadding": 2}}}},
      {"data": {"values": [{"lab": "low risk  (n=58)"}]}, "mark": {"type": "text", "align": "left", "baseline": "middle", "fontSize": 13, "fontWeight": "bold", "dx": 14, "color": "black"}, "encoding": {"x": {"datum": "Wnt2", "axis": {"title": null, "labelAngle": 0, "labelFontSize": 10.5, "ticks": false, "domain": false, "labelPadding": 3}}, "y": {"datum": 0.745, "axis": {"title": "Gene expression level", "values": [0.4, 0.45, 0.5, 0.55, 0.6, 0.65], "format": ".2f", "labelFontSize": 12.5, "titleFontSize": 13, "tickSize": 3, "domain": false, "labelPadding": 1, "titlePadding": 2}}, "text": {"field": "lab"}}},
      {"data": {"values": [{"lab": "high risk (n=19)"}]}, "mark": {"type": "point", "filled": false, "size": 30, "strokeWidth": 1.6, "color": "#dd2020", "opacity": 1}, "encoding": {"x": {"datum": "Wnt2", "axis": {"title": null, "labelAngle": 0, "labelFontSize": 10.5, "ticks": false, "domain": false, "labelPadding": 3}}, "y": {"datum": 0.7, "axis": {"title": "Gene expression level", "values": [0.4, 0.45, 0.5, 0.55, 0.6, 0.65], "format": ".2f", "labelFontSize": 12.5, "titleFontSize": 13, "tickSize": 3, "domain": false, "labelPadding": 1, "titlePadding": 2}}}},
      {"data": {"values": [{"lab": "high risk (n=19)"}]}, "mark": {"type": "text", "align": "left", "baseline": "middle", "fontSize": 13, "fontWeight": "bold", "dx": 14, "color": "black"}, "encoding": {"x": {"datum": "Wnt2", "axis": {"title": null, "labelAngle": 0, "labelFontSize": 10.5, "ticks": false, "domain": false, "labelPadding": 3}}, "y": {"datum": 0.7, "axis": {"title": "Gene expression level", "values": [0.4, 0.45, 0.5, 0.55, 0.6, 0.65], "format": ".2f", "labelFontSize": 12.5, "titleFontSize": 13, "tickSize": 3, "domain": false, "labelPadding": 1, "titlePadding": 2}}, "text": {"field": "lab"}}}
    ]
  }
  ]
},
{
  "bounds": "flush",
  "spacing": 59.5,
  "vconcat": [
  {
    "width": 122, "height": 148,
    "layer": [
      {"data": {"name": "c1"}, "mark": {"type": "bar", "stroke": "black", "strokeWidth": 1.5}, "encoding": {"x": {"field": "x", "type": "nominal", "scale": {"domain": ["LGK974", "GW4869", "DMSO"], "paddingInner": 0.34, "paddingOuter": 0.35}, "axis": {"title": null, "labelAngle": -45, "labelAlign": "right", "labelBaseline": "top", "labelFontSize": 9, "ticks": false, "domainWidth": 1.5, "labelPadding": 1}}, "y": {"field": "v", "type": "quantitative", "scale": {"domain": [0, 20], "range": [148, 22], "nice": false}, "axis": {"title": "Concentration(ng/ml)", "values": [0, 5, 10, 15, 20], "labelFontSize": 10.5, "labelFontWeight": "normal", "titleFontSize": 11.5, "tickSize": 3, "tickWidth": 1.5, "domainWidth": 1.5, "labelPadding": 1, "titlePadding": 4}}, "color": {"field": "x", "type": "nominal", "scale": {"domain": ["LGK974", "GW4869", "DMSO"], "range": ["white", "#808080", "black"]}, "legend": null}}},
      {"data": {"name": "c1"}, "mark": {"type": "rule", "color": "black", "strokeWidth": 1.5}, "encoding": {"x": {"field": "x", "type": "nominal", "axis": {"title": null, "labelAngle": -45, "labelAlign": "right", "labelBaseline": "top", "labelFontSize": 9, "ticks": false, "domainWidth": 1.5, "labelPadding": 1}}, "y": {"field": "v", "type": "quantitative", "axis": {"title": "Concentration(ng/ml)", "values": [0, 5, 10, 15, 20], "labelFontSize": 10.5, "labelFontWeight": "normal", "titleFontSize": 11.5, "tickSize": 3, "tickWidth": 1.5, "domainWidth": 1.5, "labelPadding": 1, "titlePadding": 4}}, "y2": {"field": "hi"}}},
      {"data": {"name": "c1"}, "mark": {"type": "tick", "orient": "horizontal", "size": 10, "thickness": 1.5, "color": "black"}, "encoding": {"x": {"field": "x", "type": "nominal", "axis": {"title": null, "labelAngle": -45, "labelAlign": "right", "labelBaseline": "top", "labelFontSize": 9, "ticks": false, "domainWidth": 1.5, "labelPadding": 1}}, "y": {"field": "hi", "type": "quantitative", "axis": {"title": "Concentration(ng/ml)", "values": [0, 5, 10, 15, 20], "labelFontSize": 10.5, "labelFontWeight": "normal", "titleFontSize": 11.5, "tickSize": 3, "tickWidth": 1.5, "domainWidth": 1.5, "labelPadding": 1, "titlePadding": 4}}}},
      {"data": {"name": "k1"}, "mark": {"type": "rule", "color": "black", "strokeWidth": 1.5}, "encoding": {"x": {"field": "x1", "type": "nominal", "bandPosition": 0.5, "axis": {"title": null, "labelAngle": -45, "labelAlign": "right", "labelBaseline": "top", "labelFontSize": 9, "ticks": false, "domainWidth": 1.5, "labelPadding": 1}}, "x2": {"field": "x2", "bandPosition": 0.5}, "y": {"field": "y", "type": "quantitative", "axis": {"title": "Concentration(ng/ml)", "values": [0, 5, 10, 15, 20], "labelFontSize": 10.5, "labelFontWeight": "normal", "titleFontSize": 11.5, "tickSize": 3, "tickWidth": 1.5, "domainWidth": 1.5, "labelPadding": 1, "titlePadding": 4}}}},
      {"data": {"name": "k1"}, "mark": {"type": "tick", "orient": "vertical", "size": 5, "thickness": 1.5, "color": "black", "yOffset": 2.5}, "encoding": {"x": {"field": "x1", "type": "nominal", "axis": {"title": null, "labelAngle": -45, "labelAlign": "right", "labelBaseline": "top", "labelFontSize": 9, "ticks": false, "domainWidth": 1.5, "labelPadding": 1}}, "y": {"field": "y", "type": "quantitative", "axis": {"title": "Concentration(ng/ml)", "values": [0, 5, 10, 15, 20], "labelFontSize": 10.5, "labelFontWeight": "normal", "titleFontSize": 11.5, "tickSize": 3, "tickWidth": 1.5, "domainWidth": 1.5, "labelPadding": 1, "titlePadding": 4}}}},
      {"data": {"name": "k1"}, "mark": {"type": "tick", "orient": "vertical", "size": 5, "thickness": 1.5, "color": "black", "yOffset": 2.5}, "encoding": {"x": {"field": "x2", "type": "nominal", "axis": {"title": null, "labelAngle": -45, "labelAlign": "right", "labelBaseline": "top", "labelFontSize": 9, "ticks": false, "domainWidth": 1.5, "labelPadding": 1}}, "y": {"field": "y", "type": "quantitative", "axis": {"title": "Concentration(ng/ml)", "values": [0, 5, 10, 15, 20], "labelFontSize": 10.5, "labelFontWeight": "normal", "titleFontSize": 11.5, "tickSize": 3, "tickWidth": 1.5, "domainWidth": 1.5, "labelPadding": 1, "titlePadding": 4}}}},
      {"data": {"name": "k1"}, "transform": [{"filter": "datum.lvl == 'top'"}], "mark": {"type": "text", "fontSize": 12.5, "fontWeight": "bold", "dx": 36.3, "dy": -2, "color": "black"}, "encoding": {"x": {"field": "x1", "type": "nominal", "axis": {"title": null, "labelAngle": -45, "labelAlign": "right", "labelBaseline": "top", "labelFontSize": 9, "ticks": false, "domainWidth": 1.5, "labelPadding": 1}}, "y": {"field": "y", "type": "quantitative", "axis": {"title": "Concentration(ng/ml)", "values": [0, 5, 10, 15, 20], "labelFontSize": 10.5, "labelFontWeight": "normal", "titleFontSize": 11.5, "tickSize": 3, "tickWidth": 1.5, "domainWidth": 1.5, "labelPadding": 1, "titlePadding": 4}}, "text": {"field": "lab"}}},
      {"data": {"name": "k1"}, "transform": [{"filter": "datum.lvl == 'low'"}], "mark": {"type": "text", "fontWeight": "bold", "dx": 18.2, "dy": -2, "color": "black"}, "encoding": {"x": {"field": "x1", "type": "nominal", "axis": {"title": null, "labelAngle": -45, "labelAlign": "right", "labelBaseline": "top", "labelFontSize": 9, "ticks": false, "domainWidth": 1.5, "labelPadding": 1}}, "y": {"field": "y", "type": "quantitative", "axis": {"title": "Concentration(ng/ml)", "values": [0, 5, 10, 15, 20], "labelFontSize": 10.5, "labelFontWeight": "normal", "titleFontSize": 11.5, "tickSize": 3, "tickWidth": 1.5, "domainWidth": 1.5, "labelPadding": 1, "titlePadding": 4}}, "text": {"field": "lab"}, "size": {"condition": {"test": "datum.lab == 'NS'", "value": 9}, "value": 12.5}}},
      {"data": {"values": [{"t": "18Co"}]}, "mark": {"type": "text", "fontSize": 12.5, "fontWeight": "bold", "baseline": "alphabetic", "dx": -7.7, "dy": -0.7, "color": "black"}, "encoding": {"x": {"datum": "GW4869", "axis": {"title": null, "labelAngle": -45, "labelAlign": "right", "labelBaseline": "top", "labelFontSize": 9, "ticks": false, "domainWidth": 1.5, "labelPadding": 1}}, "y": {"datum": 20, "axis": {"title": "Concentration(ng/ml)", "values": [0, 5, 10, 15, 20], "labelFontSize": 10.5, "labelFontWeight": "normal", "titleFontSize": 11.5, "tickSize": 3, "tickWidth": 1.5, "domainWidth": 1.5, "labelPadding": 1, "titlePadding": 4}}, "text": {"field": "t"}}},
      {"data": {"values": [{"t": "c"}]}, "mark": {"type": "text", "fontSize": 17, "fontWeight": "bold", "align": "left", "baseline": "alphabetic", "dx": -67, "dy": -55.7, "color": "black"}, "encoding": {"x": {"datum": "LGK974", "axis": {"title": null, "labelAngle": -45, "labelAlign": "right", "labelBaseline": "top", "labelFontSize": 9, "ticks": false, "domainWidth": 1.5, "labelPadding": 1}}, "y": {"datum": 20, "axis": {"title": "Concentration(ng/ml)", "values": [0, 5, 10, 15, 20], "labelFontSize": 10.5, "labelFontWeight": "normal", "titleFontSize": 11.5, "tickSize": 3, "tickWidth": 1.5, "domainWidth": 1.5, "labelPadding": 1, "titlePadding": 4}}, "text": {"field": "t"}}}
    ]
  },
  {
    "width": 122, "height": 148,
    "layer": [
      {"data": {"name": "c2"}, "mark": {"type": "bar", "stroke": "black", "strokeWidth": 1.5}, "encoding": {"x": {"field": "x", "type": "nominal", "scale": {"domain": ["LGK974", "GW4869", "DMSO"], "paddingInner": 0.34, "paddingOuter": 0.35}, "axis": {"title": null, "labelAngle": -45, "labelAlign": "right", "labelBaseline": "top", "labelFontSize": 9, "ticks": false, "domainWidth": 1.5, "labelPadding": 1}}, "y": {"field": "v", "type": "quantitative", "scale": {"domain": [0, 20], "range": [148, 22], "nice": false}, "axis": {"title": "Concentration(ng/ml)", "values": [0, 5, 10, 15, 20], "labelFontSize": 10.5, "labelFontWeight": "normal", "titleFontSize": 11.5, "tickSize": 3, "tickWidth": 1.5, "domainWidth": 1.5, "labelPadding": 1, "titlePadding": 4}}, "color": {"field": "x", "type": "nominal", "scale": {"domain": ["LGK974", "GW4869", "DMSO"], "range": ["white", "#808080", "black"]}, "legend": null}}},
      {"data": {"name": "c2"}, "mark": {"type": "rule", "color": "black", "strokeWidth": 1.5}, "encoding": {"x": {"field": "x", "type": "nominal", "axis": {"title": null, "labelAngle": -45, "labelAlign": "right", "labelBaseline": "top", "labelFontSize": 9, "ticks": false, "domainWidth": 1.5, "labelPadding": 1}}, "y": {"field": "v", "type": "quantitative", "axis": {"title": "Concentration(ng/ml)", "values": [0, 5, 10, 15, 20], "labelFontSize": 10.5, "labelFontWeight": "normal", "titleFontSize": 11.5, "tickSize": 3, "tickWidth": 1.5, "domainWidth": 1.5, "labelPadding": 1, "titlePadding": 4}}, "y2": {"field": "hi"}}},
      {"data": {"name": "c2"}, "mark": {"type": "tick", "orient": "horizontal", "size": 10, "thickness": 1.5, "color": "black"}, "encoding": {"x": {"field": "x", "type": "nominal", "axis": {"title": null, "labelAngle": -45, "labelAlign": "right", "labelBaseline": "top", "labelFontSize": 9, "ticks": false, "domainWidth": 1.5, "labelPadding": 1}}, "y": {"field": "hi", "type": "quantitative", "axis": {"title": "Concentration(ng/ml)", "values": [0, 5, 10, 15, 20], "labelFontSize": 10.5, "labelFontWeight": "normal", "titleFontSize": 11.5, "tickSize": 3, "tickWidth": 1.5, "domainWidth": 1.5, "labelPadding": 1, "titlePadding": 4}}}},
      {"data": {"name": "k2"}, "mark": {"type": "rule", "color": "black", "strokeWidth": 1.5}, "encoding": {"x": {"field": "x1", "type": "nominal", "bandPosition": 0.5, "axis": {"title": null, "labelAngle": -45, "labelAlign": "right", "labelBaseline": "top", "labelFontSize": 9, "ticks": false, "domainWidth": 1.5, "labelPadding": 1}}, "x2": {"field": "x2", "bandPosition": 0.5}, "y": {"field": "y", "type": "quantitative", "axis": {"title": "Concentration(ng/ml)", "values": [0, 5, 10, 15, 20], "labelFontSize": 10.5, "labelFontWeight": "normal", "titleFontSize": 11.5, "tickSize": 3, "tickWidth": 1.5, "domainWidth": 1.5, "labelPadding": 1, "titlePadding": 4}}}},
      {"data": {"name": "k2"}, "mark": {"type": "tick", "orient": "vertical", "size": 5, "thickness": 1.5, "color": "black", "yOffset": 2.5}, "encoding": {"x": {"field": "x1", "type": "nominal", "axis": {"title": null, "labelAngle": -45, "labelAlign": "right", "labelBaseline": "top", "labelFontSize": 9, "ticks": false, "domainWidth": 1.5, "labelPadding": 1}}, "y": {"field": "y", "type": "quantitative", "axis": {"title": "Concentration(ng/ml)", "values": [0, 5, 10, 15, 20], "labelFontSize": 10.5, "labelFontWeight": "normal", "titleFontSize": 11.5, "tickSize": 3, "tickWidth": 1.5, "domainWidth": 1.5, "labelPadding": 1, "titlePadding": 4}}}},
      {"data": {"name": "k2"}, "mark": {"type": "tick", "orient": "vertical", "size": 5, "thickness": 1.5, "color": "black", "yOffset": 2.5}, "encoding": {"x": {"field": "x2", "type": "nominal", "axis": {"title": null, "labelAngle": -45, "labelAlign": "right", "labelBaseline": "top", "labelFontSize": 9, "ticks": false, "domainWidth": 1.5, "labelPadding": 1}}, "y": {"field": "y", "type": "quantitative", "axis": {"title": "Concentration(ng/ml)", "values": [0, 5, 10, 15, 20], "labelFontSize": 10.5, "labelFontWeight": "normal", "titleFontSize": 11.5, "tickSize": 3, "tickWidth": 1.5, "domainWidth": 1.5, "labelPadding": 1, "titlePadding": 4}}}},
      {"data": {"name": "k2"}, "transform": [{"filter": "datum.lvl == 'top'"}], "mark": {"type": "text", "fontSize": 12.5, "fontWeight": "bold", "dx": 36.3, "dy": -2, "color": "black"}, "encoding": {"x": {"field": "x1", "type": "nominal", "axis": {"title": null, "labelAngle": -45, "labelAlign": "right", "labelBaseline": "top", "labelFontSize": 9, "ticks": false, "domainWidth": 1.5, "labelPadding": 1}}, "y": {"field": "y", "type": "quantitative", "axis": {"title": "Concentration(ng/ml)", "values": [0, 5, 10, 15, 20], "labelFontSize": 10.5, "labelFontWeight": "normal", "titleFontSize": 11.5, "tickSize": 3, "tickWidth": 1.5, "domainWidth": 1.5, "labelPadding": 1, "titlePadding": 4}}, "text": {"field": "lab"}}},
      {"data": {"name": "k2"}, "transform": [{"filter": "datum.lvl == 'low'"}], "mark": {"type": "text", "fontWeight": "bold", "dx": 18.2, "dy": -2, "color": "black"}, "encoding": {"x": {"field": "x1", "type": "nominal", "axis": {"title": null, "labelAngle": -45, "labelAlign": "right", "labelBaseline": "top", "labelFontSize": 9, "ticks": false, "domainWidth": 1.5, "labelPadding": 1}}, "y": {"field": "y", "type": "quantitative", "axis": {"title": "Concentration(ng/ml)", "values": [0, 5, 10, 15, 20], "labelFontSize": 10.5, "labelFontWeight": "normal", "titleFontSize": 11.5, "tickSize": 3, "tickWidth": 1.5, "domainWidth": 1.5, "labelPadding": 1, "titlePadding": 4}}, "text": {"field": "lab"}, "size": {"condition": {"test": "datum.lab == 'NS'", "value": 9}, "value": 12.5}}},
      {"data": {"values": [{"t": "CAF1"}]}, "mark": {"type": "text", "fontSize": 12.5, "fontWeight": "bold", "baseline": "alphabetic", "dx": -4.3, "dy": -2.6, "color": "black"}, "encoding": {"x": {"datum": "GW4869", "axis": {"title": null, "labelAngle": -45, "labelAlign": "right", "labelBaseline": "top", "labelFontSize": 9, "ticks": false, "domainWidth": 1.5, "labelPadding": 1}}, "y": {"datum": 20, "axis": {"title": "Concentration(ng/ml)", "values": [0, 5, 10, 15, 20], "labelFontSize": 10.5, "labelFontWeight": "normal", "titleFontSize": 11.5, "tickSize": 3, "tickWidth": 1.5, "domainWidth": 1.5, "labelPadding": 1, "titlePadding": 4}}, "text": {"field": "t"}}}
    ]
  },
  {
    "width": 122, "height": 148,
    "layer": [
      {"data": {"name": "c3"}, "mark": {"type": "bar", "stroke": "black", "strokeWidth": 1.5}, "encoding": {"x": {"field": "x", "type": "nominal", "scale": {"domain": ["LGK974", "GW4869", "DMSO"], "paddingInner": 0.34, "paddingOuter": 0.35}, "axis": {"title": null, "labelAngle": -45, "labelAlign": "right", "labelBaseline": "top", "labelFontSize": 9, "ticks": false, "domainWidth": 1.5, "labelPadding": 1}}, "y": {"field": "v", "type": "quantitative", "scale": {"domain": [0, 20], "range": [148, 22], "nice": false}, "axis": {"title": "Concentration(ng/ml)", "values": [0, 5, 10, 15, 20], "labelFontSize": 10.5, "labelFontWeight": "normal", "titleFontSize": 11.5, "tickSize": 3, "tickWidth": 1.5, "domainWidth": 1.5, "labelPadding": 1, "titlePadding": 4}}, "color": {"field": "x", "type": "nominal", "scale": {"domain": ["LGK974", "GW4869", "DMSO"], "range": ["white", "#808080", "black"]}, "legend": null}}},
      {"data": {"name": "c3"}, "mark": {"type": "rule", "color": "black", "strokeWidth": 1.5}, "encoding": {"x": {"field": "x", "type": "nominal", "axis": {"title": null, "labelAngle": -45, "labelAlign": "right", "labelBaseline": "top", "labelFontSize": 9, "ticks": false, "domainWidth": 1.5, "labelPadding": 1}}, "y": {"field": "v", "type": "quantitative", "axis": {"title": "Concentration(ng/ml)", "values": [0, 5, 10, 15, 20], "labelFontSize": 10.5, "labelFontWeight": "normal", "titleFontSize": 11.5, "tickSize": 3, "tickWidth": 1.5, "domainWidth": 1.5, "labelPadding": 1, "titlePadding": 4}}, "y2": {"field": "hi"}}},
      {"data": {"name": "c3"}, "mark": {"type": "tick", "orient": "horizontal", "size": 10, "thickness": 1.5, "color": "black"}, "encoding": {"x": {"field": "x", "type": "nominal", "axis": {"title": null, "labelAngle": -45, "labelAlign": "right", "labelBaseline": "top", "labelFontSize": 9, "ticks": false, "domainWidth": 1.5, "labelPadding": 1}}, "y": {"field": "hi", "type": "quantitative", "axis": {"title": "Concentration(ng/ml)", "values": [0, 5, 10, 15, 20], "labelFontSize": 10.5, "labelFontWeight": "normal", "titleFontSize": 11.5, "tickSize": 3, "tickWidth": 1.5, "domainWidth": 1.5, "labelPadding": 1, "titlePadding": 4}}}},
      {"data": {"name": "k3"}, "mark": {"type": "rule", "color": "black", "strokeWidth": 1.5}, "encoding": {"x": {"field": "x1", "type": "nominal", "bandPosition": 0.5, "axis": {"title": null, "labelAngle": -45, "labelAlign": "right", "labelBaseline": "top", "labelFontSize": 9, "ticks": false, "domainWidth": 1.5, "labelPadding": 1}}, "x2": {"field": "x2", "bandPosition": 0.5}, "y": {"field": "y", "type": "quantitative", "axis": {"title": "Concentration(ng/ml)", "values": [0, 5, 10, 15, 20], "labelFontSize": 10.5, "labelFontWeight": "normal", "titleFontSize": 11.5, "tickSize": 3, "tickWidth": 1.5, "domainWidth": 1.5, "labelPadding": 1, "titlePadding": 4}}}},
      {"data": {"name": "k3"}, "mark": {"type": "tick", "orient": "vertical", "size": 5, "thickness": 1.5, "color": "black", "yOffset": 2.5}, "encoding": {"x": {"field": "x1", "type": "nominal", "axis": {"title": null, "labelAngle": -45, "labelAlign": "right", "labelBaseline": "top", "labelFontSize": 9, "ticks": false, "domainWidth": 1.5, "labelPadding": 1}}, "y": {"field": "y", "type": "quantitative", "axis": {"title": "Concentration(ng/ml)", "values": [0, 5, 10, 15, 20], "labelFontSize": 10.5, "labelFontWeight": "normal", "titleFontSize": 11.5, "tickSize": 3, "tickWidth": 1.5, "domainWidth": 1.5, "labelPadding": 1, "titlePadding": 4}}}},
      {"data": {"name": "k3"}, "mark": {"type": "tick", "orient": "vertical", "size": 5, "thickness": 1.5, "color": "black", "yOffset": 2.5}, "encoding": {"x": {"field": "x2", "type": "nominal", "axis": {"title": null, "labelAngle": -45, "labelAlign": "right", "labelBaseline": "top", "labelFontSize": 9, "ticks": false, "domainWidth": 1.5, "labelPadding": 1}}, "y": {"field": "y", "type": "quantitative", "axis": {"title": "Concentration(ng/ml)", "values": [0, 5, 10, 15, 20], "labelFontSize": 10.5, "labelFontWeight": "normal", "titleFontSize": 11.5, "tickSize": 3, "tickWidth": 1.5, "domainWidth": 1.5, "labelPadding": 1, "titlePadding": 4}}}},
      {"data": {"name": "k3"}, "transform": [{"filter": "datum.lvl == 'top'"}], "mark": {"type": "text", "fontSize": 12.5, "fontWeight": "bold", "dx": 36.3, "dy": -2, "color": "black"}, "encoding": {"x": {"field": "x1", "type": "nominal", "axis": {"title": null, "labelAngle": -45, "labelAlign": "right", "labelBaseline": "top", "labelFontSize": 9, "ticks": false, "domainWidth": 1.5, "labelPadding": 1}}, "y": {"field": "y", "type": "quantitative", "axis": {"title": "Concentration(ng/ml)", "values": [0, 5, 10, 15, 20], "labelFontSize": 10.5, "labelFontWeight": "normal", "titleFontSize": 11.5, "tickSize": 3, "tickWidth": 1.5, "domainWidth": 1.5, "labelPadding": 1, "titlePadding": 4}}, "text": {"field": "lab"}}},
      {"data": {"name": "k3"}, "transform": [{"filter": "datum.lvl == 'low'"}], "mark": {"type": "text", "fontWeight": "bold", "dx": 18.2, "dy": -2, "color": "black"}, "encoding": {"x": {"field": "x1", "type": "nominal", "axis": {"title": null, "labelAngle": -45, "labelAlign": "right", "labelBaseline": "top", "labelFontSize": 9, "ticks": false, "domainWidth": 1.5, "labelPadding": 1}}, "y": {"field": "y", "type": "quantitative", "axis": {"title": "Concentration(ng/ml)", "values": [0, 5, 10, 15, 20], "labelFontSize": 10.5, "labelFontWeight": "normal", "titleFontSize": 11.5, "tickSize": 3, "tickWidth": 1.5, "domainWidth": 1.5, "labelPadding": 1, "titlePadding": 4}}, "text": {"field": "lab"}, "size": {"condition": {"test": "datum.lab == 'NS'", "value": 9}, "value": 12.5}}},
      {"data": {"values": [{"t": "CAF2"}]}, "mark": {"type": "text", "fontSize": 12.5, "fontWeight": "bold", "baseline": "alphabetic", "dx": -4.3, "dy": -2.3, "color": "black"}, "encoding": {"x": {"datum": "GW4869", "axis": {"title": null, "labelAngle": -45, "labelAlign": "right", "labelBaseline": "top", "labelFontSize": 9, "ticks": false, "domainWidth": 1.5, "labelPadding": 1}}, "y": {"datum": 20, "axis": {"title": "Concentration(ng/ml)", "values": [0, 5, 10, 15, 20], "labelFontSize": 10.5, "labelFontWeight": "normal", "titleFontSize": 11.5, "tickSize": 3, "tickWidth": 1.5, "domainWidth": 1.5, "labelPadding": 1, "titlePadding": 4}}, "text": {"field": "t"}}}
    ]
  },
  {
    "width": 122, "height": 148,
    "layer": [
      {"data": {"name": "c4"}, "mark": {"type": "bar", "stroke": "black", "strokeWidth": 1.5}, "encoding": {"x": {"field": "x", "type": "nominal", "scale": {"domain": ["LGK974", "GW4869", "DMSO"], "paddingInner": 0.34, "paddingOuter": 0.35}, "axis": {"title": null, "labelAngle": -45, "labelAlign": "right", "labelBaseline": "top", "labelFontSize": 9, "ticks": false, "domainWidth": 1.5, "labelPadding": 1}}, "y": {"field": "v", "type": "quantitative", "scale": {"domain": [0, 20], "range": [148, 22], "nice": false}, "axis": {"title": "Concentration(ng/ml)", "values": [0, 5, 10, 15, 20], "labelFontSize": 10.5, "labelFontWeight": "normal", "titleFontSize": 11.5, "tickSize": 3, "tickWidth": 1.5, "domainWidth": 1.5, "labelPadding": 1, "titlePadding": 4}}, "color": {"field": "x", "type": "nominal", "scale": {"domain": ["LGK974", "GW4869", "DMSO"], "range": ["white", "#808080", "black"]}, "legend": null}}},
      {"data": {"name": "c4"}, "mark": {"type": "rule", "color": "black", "strokeWidth": 1.5}, "encoding": {"x": {"field": "x", "type": "nominal", "axis": {"title": null, "labelAngle": -45, "labelAlign": "right", "labelBaseline": "top", "labelFontSize": 9, "ticks": false, "domainWidth": 1.5, "labelPadding": 1}}, "y": {"field": "v", "type": "quantitative", "axis": {"title": "Concentration(ng/ml)", "values": [0, 5, 10, 15, 20], "labelFontSize": 10.5, "labelFontWeight": "normal", "titleFontSize": 11.5, "tickSize": 3, "tickWidth": 1.5, "domainWidth": 1.5, "labelPadding": 1, "titlePadding": 4}}, "y2": {"field": "hi"}}},
      {"data": {"name": "c4"}, "mark": {"type": "tick", "orient": "horizontal", "size": 10, "thickness": 1.5, "color": "black"}, "encoding": {"x": {"field": "x", "type": "nominal", "axis": {"title": null, "labelAngle": -45, "labelAlign": "right", "labelBaseline": "top", "labelFontSize": 9, "ticks": false, "domainWidth": 1.5, "labelPadding": 1}}, "y": {"field": "hi", "type": "quantitative", "axis": {"title": "Concentration(ng/ml)", "values": [0, 5, 10, 15, 20], "labelFontSize": 10.5, "labelFontWeight": "normal", "titleFontSize": 11.5, "tickSize": 3, "tickWidth": 1.5, "domainWidth": 1.5, "labelPadding": 1, "titlePadding": 4}}}},
      {"data": {"name": "k4"}, "mark": {"type": "rule", "color": "black", "strokeWidth": 1.5}, "encoding": {"x": {"field": "x1", "type": "nominal", "bandPosition": 0.5, "axis": {"title": null, "labelAngle": -45, "labelAlign": "right", "labelBaseline": "top", "labelFontSize": 9, "ticks": false, "domainWidth": 1.5, "labelPadding": 1}}, "x2": {"field": "x2", "bandPosition": 0.5}, "y": {"field": "y", "type": "quantitative", "axis": {"title": "Concentration(ng/ml)", "values": [0, 5, 10, 15, 20], "labelFontSize": 10.5, "labelFontWeight": "normal", "titleFontSize": 11.5, "tickSize": 3, "tickWidth": 1.5, "domainWidth": 1.5, "labelPadding": 1, "titlePadding": 4}}}},
      {"data": {"name": "k4"}, "mark": {"type": "tick", "orient": "vertical", "size": 5, "thickness": 1.5, "color": "black", "yOffset": 2.5}, "encoding": {"x": {"field": "x1", "type": "nominal", "axis": {"title": null, "labelAngle": -45, "labelAlign": "right", "labelBaseline": "top", "labelFontSize": 9, "ticks": false, "domainWidth": 1.5, "labelPadding": 1}}, "y": {"field": "y", "type": "quantitative", "axis": {"title": "Concentration(ng/ml)", "values": [0, 5, 10, 15, 20], "labelFontSize": 10.5, "labelFontWeight": "normal", "titleFontSize": 11.5, "tickSize": 3, "tickWidth": 1.5, "domainWidth": 1.5, "labelPadding": 1, "titlePadding": 4}}}},
      {"data": {"name": "k4"}, "mark": {"type": "tick", "orient": "vertical", "size": 5, "thickness": 1.5, "color": "black", "yOffset": 2.5}, "encoding": {"x": {"field": "x2", "type": "nominal", "axis": {"title": null, "labelAngle": -45, "labelAlign": "right", "labelBaseline": "top", "labelFontSize": 9, "ticks": false, "domainWidth": 1.5, "labelPadding": 1}}, "y": {"field": "y", "type": "quantitative", "axis": {"title": "Concentration(ng/ml)", "values": [0, 5, 10, 15, 20], "labelFontSize": 10.5, "labelFontWeight": "normal", "titleFontSize": 11.5, "tickSize": 3, "tickWidth": 1.5, "domainWidth": 1.5, "labelPadding": 1, "titlePadding": 4}}}},
      {"data": {"name": "k4"}, "transform": [{"filter": "datum.lvl == 'top'"}], "mark": {"type": "text", "fontSize": 12.5, "fontWeight": "bold", "dx": 36.3, "dy": -2, "color": "black"}, "encoding": {"x": {"field": "x1", "type": "nominal", "axis": {"title": null, "labelAngle": -45, "labelAlign": "right", "labelBaseline": "top", "labelFontSize": 9, "ticks": false, "domainWidth": 1.5, "labelPadding": 1}}, "y": {"field": "y", "type": "quantitative", "axis": {"title": "Concentration(ng/ml)", "values": [0, 5, 10, 15, 20], "labelFontSize": 10.5, "labelFontWeight": "normal", "titleFontSize": 11.5, "tickSize": 3, "tickWidth": 1.5, "domainWidth": 1.5, "labelPadding": 1, "titlePadding": 4}}, "text": {"field": "lab"}}},
      {"data": {"name": "k4"}, "transform": [{"filter": "datum.lvl == 'low'"}], "mark": {"type": "text", "fontWeight": "bold", "dx": 18.2, "dy": -2, "color": "black"}, "encoding": {"x": {"field": "x1", "type": "nominal", "axis": {"title": null, "labelAngle": -45, "labelAlign": "right", "labelBaseline": "top", "labelFontSize": 9, "ticks": false, "domainWidth": 1.5, "labelPadding": 1}}, "y": {"field": "y", "type": "quantitative", "axis": {"title": "Concentration(ng/ml)", "values": [0, 5, 10, 15, 20], "labelFontSize": 10.5, "labelFontWeight": "normal", "titleFontSize": 11.5, "tickSize": 3, "tickWidth": 1.5, "domainWidth": 1.5, "labelPadding": 1, "titlePadding": 4}}, "text": {"field": "lab"}, "size": {"condition": {"test": "datum.lab == 'NS'", "value": 9}, "value": 12.5}}},
      {"data": {"values": [{"t": "CAF3"}]}, "mark": {"type": "text", "fontSize": 12.5, "fontWeight": "bold", "baseline": "alphabetic", "dx": -5, "dy": -15.6, "color": "black"}, "encoding": {"x": {"datum": "GW4869", "axis": {"title": null, "labelAngle": -45, "labelAlign": "right", "labelBaseline": "top", "labelFontSize": 9, "ticks": false, "domainWidth": 1.5, "labelPadding": 1}}, "y": {"datum": 20, "axis": {"title": "Concentration(ng/ml)", "values": [0, 5, 10, 15, 20], "labelFontSize": 10.5, "labelFontWeight": "normal", "titleFontSize": 11.5, "tickSize": 3, "tickWidth": 1.5, "domainWidth": 1.5, "labelPadding": 1, "titlePadding": 4}}, "text": {"field": "t"}}}
    ]
  }
  ]
}
]
}
